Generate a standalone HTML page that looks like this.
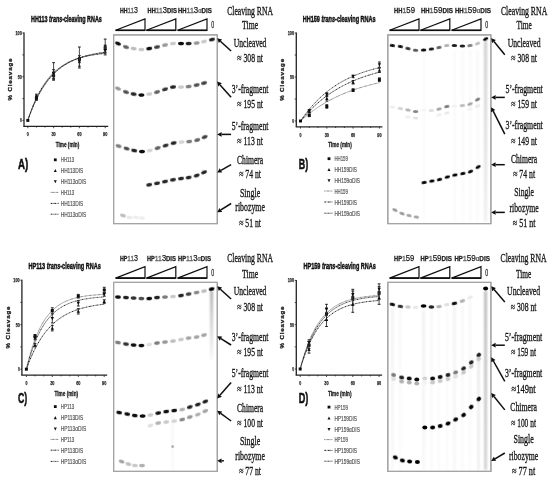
<!DOCTYPE html>
<html><head><meta charset="utf-8"><style>
html,body{margin:0;padding:0;background:#fff;width:550px;height:480px;overflow:hidden;font-family:"Liberation Sans",sans-serif;}
svg{display:block;}
</style></head><body>
<svg width="550" height="480" viewBox="0 0 550 480"><defs><filter id="bl" x="-50%" y="-50%" width="200%" height="200%"><feGaussianBlur stdDeviation="0.55"/></filter><filter id="bl2" x="-100%" y="-5%" width="300%" height="110%"><feGaussianBlur stdDeviation="0.8"/></filter><filter id="soft" x="0" y="0" width="100%" height="100%" filterUnits="userSpaceOnUse"><feGaussianBlur stdDeviation="0.42"/></filter></defs>
<rect width="550" height="480" fill="#fff"/>
<g filter="url(#soft)">
<line x1="24.0" y1="32.5" x2="24.0" y2="126.4" stroke="#222" stroke-width="1.3"/>
<line x1="23.4" y1="126.4" x2="108.2" y2="126.4" stroke="#222" stroke-width="1.3"/>
<line x1="22.4" y1="120.4" x2="24.0" y2="120.4" stroke="#222" stroke-width="0.8"/>
<line x1="22.4" y1="98.6" x2="24.0" y2="98.6" stroke="#222" stroke-width="0.8"/>
<line x1="22.4" y1="76.7" x2="24.0" y2="76.7" stroke="#222" stroke-width="0.8"/>
<line x1="22.4" y1="54.9" x2="24.0" y2="54.9" stroke="#222" stroke-width="0.8"/>
<line x1="22.4" y1="33.0" x2="24.0" y2="33.0" stroke="#222" stroke-width="0.8"/>
<line x1="27.8" y1="126.4" x2="27.8" y2="128.2" stroke="#222" stroke-width="0.8"/>
<line x1="36.4" y1="126.4" x2="36.4" y2="127.6" stroke="#222" stroke-width="0.8"/>
<line x1="45.0" y1="126.4" x2="45.0" y2="127.6" stroke="#222" stroke-width="0.8"/>
<line x1="53.6" y1="126.4" x2="53.6" y2="128.2" stroke="#222" stroke-width="0.8"/>
<line x1="62.2" y1="126.4" x2="62.2" y2="127.6" stroke="#222" stroke-width="0.8"/>
<line x1="70.8" y1="126.4" x2="70.8" y2="127.6" stroke="#222" stroke-width="0.8"/>
<line x1="79.4" y1="126.4" x2="79.4" y2="128.2" stroke="#222" stroke-width="0.8"/>
<line x1="88.0" y1="126.4" x2="88.0" y2="127.6" stroke="#222" stroke-width="0.8"/>
<line x1="96.6" y1="126.4" x2="96.6" y2="127.6" stroke="#222" stroke-width="0.8"/>
<line x1="105.2" y1="126.4" x2="105.2" y2="128.2" stroke="#222" stroke-width="0.8"/>
<text x="21.8" y="122.3" font-size="5.6" font-family='"Liberation Sans", sans-serif' font-weight="bold" font-style="normal" fill="#222" text-anchor="end" textLength="1.8" lengthAdjust="spacingAndGlyphs" stroke="#222" stroke-width="0.25">0</text>
<text x="21.8" y="78.6" font-size="5.6" font-family='"Liberation Sans", sans-serif' font-weight="bold" font-style="normal" fill="#222" text-anchor="end" textLength="4.0" lengthAdjust="spacingAndGlyphs" stroke="#222" stroke-width="0.25">50</text>
<text x="21.8" y="34.9" font-size="5.6" font-family='"Liberation Sans", sans-serif' font-weight="bold" font-style="normal" fill="#222" text-anchor="end" textLength="6.4" lengthAdjust="spacingAndGlyphs" stroke="#222" stroke-width="0.25">100</text>
<text x="27.8" y="136.2" font-size="6.2" font-family='"Liberation Sans", sans-serif' font-weight="bold" font-style="normal" fill="#222" text-anchor="middle" textLength="2.0" lengthAdjust="spacingAndGlyphs" stroke="#222" stroke-width="0.25">0</text>
<text x="53.6" y="136.2" font-size="6.2" font-family='"Liberation Sans", sans-serif' font-weight="bold" font-style="normal" fill="#222" text-anchor="middle" textLength="4.3" lengthAdjust="spacingAndGlyphs" stroke="#222" stroke-width="0.25">30</text>
<text x="79.4" y="136.2" font-size="6.2" font-family='"Liberation Sans", sans-serif' font-weight="bold" font-style="normal" fill="#222" text-anchor="middle" textLength="4.3" lengthAdjust="spacingAndGlyphs" stroke="#222" stroke-width="0.25">60</text>
<text x="105.2" y="136.2" font-size="6.2" font-family='"Liberation Sans", sans-serif' font-weight="bold" font-style="normal" fill="#222" text-anchor="middle" textLength="4.3" lengthAdjust="spacingAndGlyphs" stroke="#222" stroke-width="0.25">90</text>
<text x="67.5" y="146.7" font-size="6.4" font-family='"Liberation Sans", sans-serif' font-weight="bold" font-style="normal" fill="#222" text-anchor="middle" textLength="23.5" lengthAdjust="spacingAndGlyphs" stroke="#222" stroke-width="0.3">Time (min)</text>
<text x="0" y="0" font-size="6.2" font-family='"Liberation Sans", sans-serif' font-weight="bold" fill="#222" stroke="#222" stroke-width="0.3" text-anchor="middle" textLength="42" lengthAdjust="spacing" transform="translate(11.9 79.5) rotate(-90)">% Cleavage</text>
<text x="31.0" y="21.7" font-size="8.6" font-family='"Liberation Sans", sans-serif' font-weight="bold" fill="#111" stroke="#111" stroke-width="0.45" textLength="70.8" lengthAdjust="spacingAndGlyphs">HH113 <tspan font-style="italic">trans</tspan>-cleaving RNAs</text>
<polyline points="27.80,120.40 29.09,116.63 30.38,113.05 31.67,109.68 32.96,106.48 34.25,103.46 35.54,100.60 36.83,97.89 38.12,95.33 39.41,92.91 40.70,90.62 41.99,88.45 43.28,86.40 44.57,84.46 45.86,82.63 47.15,80.89 48.44,79.25 49.73,77.70 51.02,76.23 52.31,74.84 53.60,73.52 54.89,72.28 56.18,71.10 57.47,69.99 58.76,68.94 60.05,67.94 61.34,67.00 62.63,66.10 63.92,65.26 65.21,64.46 66.50,63.71 67.79,62.99 69.08,62.32 70.37,61.68 71.66,61.07 72.95,60.50 74.24,59.96 75.53,59.45 76.82,58.97 78.11,58.51 79.40,58.07 80.69,57.66 81.98,57.28 83.27,56.91 84.56,56.56 85.85,56.23 87.14,55.92 88.43,55.63 89.72,55.35 91.01,55.09 92.30,54.84 93.59,54.60 94.88,54.38 96.17,54.17 97.46,53.97 98.75,53.78 100.04,53.60 101.33,53.44 102.62,53.28 103.91,53.13 105.20,52.98" fill="none" stroke="#555" stroke-width="1.0" stroke-dasharray="0.7,0.6"/>
<polyline points="27.80,120.40 29.09,116.76 30.38,113.30 31.67,110.02 32.96,106.91 34.25,103.95 35.54,101.15 36.83,98.49 38.12,95.97 39.41,93.58 40.70,91.31 41.99,89.15 43.28,87.11 44.57,85.17 45.86,83.32 47.15,81.58 48.44,79.92 49.73,78.35 51.02,76.86 52.31,75.44 53.60,74.10 54.89,72.82 56.18,71.61 57.47,70.46 58.76,69.37 60.05,68.34 61.34,67.36 62.63,66.43 63.92,65.55 65.21,64.71 66.50,63.91 67.79,63.16 69.08,62.44 70.37,61.77 71.66,61.12 72.95,60.51 74.24,59.93 75.53,59.38 76.82,58.86 78.11,58.36 79.40,57.89 80.69,57.45 81.98,57.02 83.27,56.62 84.56,56.24 85.85,55.88 87.14,55.53 88.43,55.21 89.72,54.90 91.01,54.61 92.30,54.33 93.59,54.07 94.88,53.81 96.17,53.58 97.46,53.35 98.75,53.14 100.04,52.93 101.33,52.74 102.62,52.56 103.91,52.39 105.20,52.22" fill="none" stroke="#222" stroke-width="1.0" stroke-dasharray="1.8,0.6,0.6,0.6"/>
<polyline points="27.80,120.40 29.09,116.48 30.38,112.78 31.67,109.29 32.96,105.99 34.25,102.89 35.54,99.96 36.83,97.20 38.12,94.59 39.41,92.14 40.70,89.82 41.99,87.63 43.28,85.57 44.57,83.63 45.86,81.79 47.15,80.06 48.44,78.43 49.73,76.89 51.02,75.44 52.31,74.07 53.60,72.78 54.89,71.57 56.18,70.42 57.47,69.33 58.76,68.31 60.05,67.35 61.34,66.44 62.63,65.58 63.92,64.77 65.21,64.01 66.50,63.29 67.79,62.61 69.08,61.97 70.37,61.37 71.66,60.80 72.95,60.26 74.24,59.76 75.53,59.28 76.82,58.83 78.11,58.41 79.40,58.01 80.69,57.63 81.98,57.27 83.27,56.93 84.56,56.62 85.85,56.32 87.14,56.04 88.43,55.77 89.72,55.52 91.01,55.28 92.30,55.06 93.59,54.85 94.88,54.65 96.17,54.46 97.46,54.29 98.75,54.12 100.04,53.96 101.33,53.81 102.62,53.67 103.91,53.54 105.20,53.42" fill="none" stroke="#222" stroke-width="1.0" stroke-dasharray="1.3,0.5,0.5,0.5,0.5,0.5"/>
<rect x="26.3" y="118.9" width="3.0" height="3.0" fill="#111"/>
<line x1="36.4" y1="96.8" x2="36.4" y2="100.3" stroke="#333" stroke-width="0.9"/>
<line x1="35.0" y1="96.8" x2="37.8" y2="96.8" stroke="#222" stroke-width="1.0"/>
<line x1="35.0" y1="100.3" x2="37.8" y2="100.3" stroke="#222" stroke-width="1.0"/>
<rect x="34.9" y="97.1" width="3.0" height="3.0" fill="#111"/>
<line x1="53.6" y1="72.3" x2="53.6" y2="79.3" stroke="#333" stroke-width="0.9"/>
<line x1="52.2" y1="72.3" x2="55.0" y2="72.3" stroke="#222" stroke-width="1.0"/>
<line x1="52.2" y1="79.3" x2="55.0" y2="79.3" stroke="#222" stroke-width="1.0"/>
<rect x="52.1" y="74.3" width="3.0" height="3.0" fill="#111"/>
<line x1="79.4" y1="55.7" x2="79.4" y2="62.7" stroke="#333" stroke-width="0.9"/>
<line x1="78.0" y1="55.7" x2="80.8" y2="55.7" stroke="#222" stroke-width="1.0"/>
<line x1="78.0" y1="62.7" x2="80.8" y2="62.7" stroke="#222" stroke-width="1.0"/>
<rect x="77.9" y="57.7" width="3.0" height="3.0" fill="#111"/>
<line x1="105.2" y1="45.2" x2="105.2" y2="52.2" stroke="#333" stroke-width="0.9"/>
<line x1="103.8" y1="45.2" x2="106.6" y2="45.2" stroke="#222" stroke-width="1.0"/>
<line x1="103.8" y1="52.2" x2="106.6" y2="52.2" stroke="#222" stroke-width="1.0"/>
<rect x="103.7" y="47.2" width="3.0" height="3.0" fill="#111"/>
<line x1="36.4" y1="94.2" x2="36.4" y2="97.7" stroke="#333" stroke-width="0.9"/>
<line x1="35.0" y1="94.2" x2="37.8" y2="94.2" stroke="#222" stroke-width="1.0"/>
<line x1="35.0" y1="97.7" x2="37.8" y2="97.7" stroke="#222" stroke-width="1.0"/>
<polygon points="36.4,94.1 38.0,97.4 34.8,97.4" fill="#111"/>
<line x1="53.6" y1="62.7" x2="53.6" y2="80.2" stroke="#333" stroke-width="0.9"/>
<line x1="52.2" y1="62.7" x2="55.0" y2="62.7" stroke="#222" stroke-width="1.0"/>
<line x1="52.2" y1="80.2" x2="55.0" y2="80.2" stroke="#222" stroke-width="1.0"/>
<polygon points="53.6,69.7 55.2,73.0 52.0,73.0" fill="#111"/>
<line x1="79.4" y1="47.0" x2="79.4" y2="68.0" stroke="#333" stroke-width="0.9"/>
<line x1="78.0" y1="47.0" x2="80.8" y2="47.0" stroke="#222" stroke-width="1.0"/>
<line x1="78.0" y1="68.0" x2="80.8" y2="68.0" stroke="#222" stroke-width="1.0"/>
<polygon points="79.4,55.7 81.1,59.0 77.8,59.0" fill="#111"/>
<line x1="105.2" y1="39.1" x2="105.2" y2="53.1" stroke="#333" stroke-width="0.9"/>
<line x1="103.8" y1="39.1" x2="106.6" y2="39.1" stroke="#222" stroke-width="1.0"/>
<line x1="103.8" y1="53.1" x2="106.6" y2="53.1" stroke="#222" stroke-width="1.0"/>
<polygon points="105.2,44.3 106.9,47.6 103.5,47.6" fill="#111"/>
<line x1="36.4" y1="95.9" x2="36.4" y2="99.4" stroke="#333" stroke-width="0.9"/>
<line x1="35.0" y1="95.9" x2="37.8" y2="95.9" stroke="#222" stroke-width="1.0"/>
<line x1="35.0" y1="99.4" x2="37.8" y2="99.4" stroke="#222" stroke-width="1.0"/>
<polygon points="36.4,99.5 38.0,96.2 34.8,96.2" fill="#111"/>
<line x1="53.6" y1="69.7" x2="53.6" y2="78.4" stroke="#333" stroke-width="0.9"/>
<line x1="52.2" y1="69.7" x2="55.0" y2="69.7" stroke="#222" stroke-width="1.0"/>
<line x1="52.2" y1="78.4" x2="55.0" y2="78.4" stroke="#222" stroke-width="1.0"/>
<polygon points="53.6,75.9 55.2,72.6 52.0,72.6" fill="#111"/>
<line x1="79.4" y1="57.5" x2="79.4" y2="66.2" stroke="#333" stroke-width="0.9"/>
<line x1="78.0" y1="57.5" x2="80.8" y2="57.5" stroke="#222" stroke-width="1.0"/>
<line x1="78.0" y1="66.2" x2="80.8" y2="66.2" stroke="#222" stroke-width="1.0"/>
<polygon points="79.4,63.6 81.1,60.3 77.8,60.3" fill="#111"/>
<line x1="105.2" y1="46.1" x2="105.2" y2="54.9" stroke="#333" stroke-width="0.9"/>
<line x1="103.8" y1="46.1" x2="106.6" y2="46.1" stroke="#222" stroke-width="1.0"/>
<line x1="103.8" y1="54.9" x2="106.6" y2="54.9" stroke="#222" stroke-width="1.0"/>
<polygon points="105.2,52.3 106.9,49.0 103.5,49.0" fill="#111"/>
<text x="18.0" y="168.9" font-size="15.2" font-family='"Liberation Sans", sans-serif' font-weight="bold" font-style="normal" fill="#111" text-anchor="start" textLength="10.2" lengthAdjust="spacingAndGlyphs" stroke="#111" stroke-width="0.6">A)</text>
<rect x="53.9" y="158.4" width="2.8" height="2.8" fill="#111"/>
<text x="60.7" y="162.2" font-size="7.4" font-family='"Liberation Sans", sans-serif' font-weight="normal" font-style="normal" fill="#555" text-anchor="start" textLength="13.5" lengthAdjust="spacingAndGlyphs" stroke="#555" stroke-width="0.2">HH113</text>
<polygon points="55.3,168.9 56.8,172.0 53.8,172.0" fill="#111"/>
<text x="60.7" y="173.0" font-size="7.4" font-family='"Liberation Sans", sans-serif' font-weight="normal" font-style="normal" fill="#555" text-anchor="start" textLength="22.5" lengthAdjust="spacingAndGlyphs" stroke="#555" stroke-width="0.2">HH113DIS</text>
<polygon points="55.3,183.3 56.8,180.2 53.8,180.2" fill="#111"/>
<text x="60.7" y="184.0" font-size="7.4" font-family='"Liberation Sans", sans-serif' font-weight="normal" font-style="normal" fill="#555" text-anchor="start" textLength="25.5" lengthAdjust="spacingAndGlyphs" stroke="#555" stroke-width="0.2">HH113αDIS</text>
<line x1="50.7" y1="192.4" x2="58.7" y2="192.4" stroke="#555" stroke-width="1.0" stroke-dasharray="0.7,0.6"/>
<text x="60.7" y="195.0" font-size="7.4" font-family='"Liberation Sans", sans-serif' font-weight="normal" font-style="normal" fill="#555" text-anchor="start" textLength="13.5" lengthAdjust="spacingAndGlyphs" stroke="#555" stroke-width="0.2">HH113</text>
<line x1="50.7" y1="203.4" x2="58.7" y2="203.4" stroke="#222" stroke-width="1.0" stroke-dasharray="1.8,0.6,0.6,0.6"/>
<text x="60.7" y="206.0" font-size="7.4" font-family='"Liberation Sans", sans-serif' font-weight="normal" font-style="normal" fill="#555" text-anchor="start" textLength="22.5" lengthAdjust="spacingAndGlyphs" stroke="#555" stroke-width="0.2">HH113DIS</text>
<line x1="50.7" y1="214.2" x2="58.7" y2="214.2" stroke="#222" stroke-width="1.0" stroke-dasharray="1.3,0.5,0.5,0.5,0.5,0.5"/>
<text x="60.7" y="216.8" font-size="7.4" font-family='"Liberation Sans", sans-serif' font-weight="normal" font-style="normal" fill="#555" text-anchor="start" textLength="25.5" lengthAdjust="spacingAndGlyphs" stroke="#555" stroke-width="0.2">HH113αDIS</text>
<line x1="296.3" y1="32.5" x2="296.3" y2="126.8" stroke="#222" stroke-width="1.3"/>
<line x1="295.7" y1="126.8" x2="382.4" y2="126.8" stroke="#222" stroke-width="1.3"/>
<line x1="294.7" y1="121.0" x2="296.3" y2="121.0" stroke="#222" stroke-width="0.8"/>
<line x1="294.7" y1="99.0" x2="296.3" y2="99.0" stroke="#222" stroke-width="0.8"/>
<line x1="294.7" y1="77.0" x2="296.3" y2="77.0" stroke="#222" stroke-width="0.8"/>
<line x1="294.7" y1="55.0" x2="296.3" y2="55.0" stroke="#222" stroke-width="0.8"/>
<line x1="294.7" y1="33.0" x2="296.3" y2="33.0" stroke="#222" stroke-width="0.8"/>
<line x1="300.5" y1="126.8" x2="300.5" y2="128.6" stroke="#222" stroke-width="0.8"/>
<line x1="309.3" y1="126.8" x2="309.3" y2="128.0" stroke="#222" stroke-width="0.8"/>
<line x1="318.0" y1="126.8" x2="318.0" y2="128.0" stroke="#222" stroke-width="0.8"/>
<line x1="326.8" y1="126.8" x2="326.8" y2="128.6" stroke="#222" stroke-width="0.8"/>
<line x1="335.6" y1="126.8" x2="335.6" y2="128.0" stroke="#222" stroke-width="0.8"/>
<line x1="344.4" y1="126.8" x2="344.4" y2="128.0" stroke="#222" stroke-width="0.8"/>
<line x1="353.1" y1="126.8" x2="353.1" y2="128.6" stroke="#222" stroke-width="0.8"/>
<line x1="361.9" y1="126.8" x2="361.9" y2="128.0" stroke="#222" stroke-width="0.8"/>
<line x1="370.7" y1="126.8" x2="370.7" y2="128.0" stroke="#222" stroke-width="0.8"/>
<line x1="379.4" y1="126.8" x2="379.4" y2="128.6" stroke="#222" stroke-width="0.8"/>
<text x="294.1" y="122.9" font-size="5.6" font-family='"Liberation Sans", sans-serif' font-weight="bold" font-style="normal" fill="#222" text-anchor="end" textLength="1.8" lengthAdjust="spacingAndGlyphs" stroke="#222" stroke-width="0.25">0</text>
<text x="294.1" y="78.9" font-size="5.6" font-family='"Liberation Sans", sans-serif' font-weight="bold" font-style="normal" fill="#222" text-anchor="end" textLength="4.0" lengthAdjust="spacingAndGlyphs" stroke="#222" stroke-width="0.25">50</text>
<text x="294.1" y="34.9" font-size="5.6" font-family='"Liberation Sans", sans-serif' font-weight="bold" font-style="normal" fill="#222" text-anchor="end" textLength="6.4" lengthAdjust="spacingAndGlyphs" stroke="#222" stroke-width="0.25">100</text>
<text x="300.5" y="136.6" font-size="6.2" font-family='"Liberation Sans", sans-serif' font-weight="bold" font-style="normal" fill="#222" text-anchor="middle" textLength="2.0" lengthAdjust="spacingAndGlyphs" stroke="#222" stroke-width="0.25">0</text>
<text x="326.8" y="136.6" font-size="6.2" font-family='"Liberation Sans", sans-serif' font-weight="bold" font-style="normal" fill="#222" text-anchor="middle" textLength="4.3" lengthAdjust="spacingAndGlyphs" stroke="#222" stroke-width="0.25">30</text>
<text x="353.1" y="136.6" font-size="6.2" font-family='"Liberation Sans", sans-serif' font-weight="bold" font-style="normal" fill="#222" text-anchor="middle" textLength="4.3" lengthAdjust="spacingAndGlyphs" stroke="#222" stroke-width="0.25">60</text>
<text x="379.4" y="136.6" font-size="6.2" font-family='"Liberation Sans", sans-serif' font-weight="bold" font-style="normal" fill="#222" text-anchor="middle" textLength="4.3" lengthAdjust="spacingAndGlyphs" stroke="#222" stroke-width="0.25">90</text>
<text x="340.0" y="147.1" font-size="6.4" font-family='"Liberation Sans", sans-serif' font-weight="bold" font-style="normal" fill="#222" text-anchor="middle" textLength="23.5" lengthAdjust="spacingAndGlyphs" stroke="#222" stroke-width="0.3">Time (min)</text>
<text x="0" y="0" font-size="6.2" font-family='"Liberation Sans", sans-serif' font-weight="bold" fill="#222" stroke="#222" stroke-width="0.3" text-anchor="middle" textLength="42" lengthAdjust="spacing" transform="translate(284.2 79.8) rotate(-90)">% Cleavage</text>
<text x="302.7" y="21.5" font-size="8.6" font-family='"Liberation Sans", sans-serif' font-weight="bold" fill="#111" stroke="#111" stroke-width="0.45" textLength="73.0" lengthAdjust="spacingAndGlyphs">HH159 <tspan font-style="italic">trans</tspan>-cleaving RNAs</text>
<polyline points="300.50,121.00 301.82,119.81 303.13,118.65 304.45,117.52 305.76,116.41 307.08,115.33 308.39,114.27 309.71,113.24 311.02,112.24 312.34,111.26 313.65,110.30 314.97,109.36 316.29,108.45 317.60,107.56 318.92,106.69 320.23,105.84 321.55,105.01 322.86,104.20 324.18,103.40 325.49,102.63 326.81,101.88 328.13,101.14 329.44,100.42 330.76,99.72 332.07,99.04 333.39,98.37 334.70,97.72 336.02,97.08 337.33,96.46 338.65,95.85 339.97,95.26 341.28,94.68 342.60,94.11 343.91,93.56 345.23,93.02 346.54,92.49 347.86,91.98 349.17,91.48 350.49,90.99 351.80,90.51 353.12,90.05 354.44,89.59 355.75,89.15 357.07,88.71 358.38,88.29 359.70,87.87 361.01,87.47 362.33,87.08 363.64,86.69 364.96,86.31 366.27,85.95 367.59,85.59 368.91,85.24 370.22,84.90 371.54,84.56 372.85,84.24 374.17,83.92 375.48,83.61 376.80,83.31 378.11,83.01 379.43,82.72" fill="none" stroke="#555" stroke-width="1.0" stroke-dasharray="0.7,0.6"/>
<polyline points="300.50,121.00 301.82,119.40 303.13,117.85 304.45,116.34 305.76,114.86 307.08,113.42 308.39,112.02 309.71,110.66 311.02,109.33 312.34,108.04 313.65,106.78 314.97,105.55 316.29,104.35 317.60,103.19 318.92,102.06 320.23,100.95 321.55,99.87 322.86,98.83 324.18,97.80 325.49,96.81 326.81,95.84 328.13,94.90 329.44,93.98 330.76,93.08 332.07,92.21 333.39,91.36 334.70,90.53 336.02,89.72 337.33,88.94 338.65,88.17 339.97,87.43 341.28,86.70 342.60,85.99 343.91,85.30 345.23,84.63 346.54,83.98 347.86,83.34 349.17,82.72 350.49,82.12 351.80,81.53 353.12,80.96 354.44,80.40 355.75,79.85 357.07,79.32 358.38,78.81 359.70,78.30 361.01,77.81 362.33,77.34 363.64,76.87 364.96,76.42 366.27,75.98 367.59,75.55 368.91,75.13 370.22,74.72 371.54,74.33 372.85,73.94 374.17,73.56 375.48,73.20 376.80,72.84 378.11,72.49 379.43,72.15" fill="none" stroke="#222" stroke-width="1.0" stroke-dasharray="1.8,0.6,0.6,0.6"/>
<polyline points="300.50,121.00 301.82,119.08 303.13,117.22 304.45,115.42 305.76,113.67 307.08,111.97 308.39,110.33 309.71,108.73 311.02,107.18 312.34,105.68 313.65,104.23 314.97,102.82 316.29,101.45 317.60,100.12 318.92,98.84 320.23,97.59 321.55,96.38 322.86,95.21 324.18,94.07 325.49,92.96 326.81,91.90 328.13,90.86 329.44,89.85 330.76,88.88 332.07,87.93 333.39,87.01 334.70,86.12 336.02,85.26 337.33,84.42 338.65,83.61 339.97,82.83 341.28,82.06 342.60,81.32 343.91,80.61 345.23,79.91 346.54,79.24 347.86,78.58 349.17,77.95 350.49,77.33 351.80,76.74 353.12,76.16 354.44,75.60 355.75,75.06 357.07,74.53 358.38,74.02 359.70,73.52 361.01,73.04 362.33,72.57 363.64,72.12 364.96,71.68 366.27,71.26 367.59,70.84 368.91,70.44 370.22,70.06 371.54,69.68 372.85,69.32 374.17,68.96 375.48,68.62 376.80,68.29 378.11,67.97 379.43,67.65" fill="none" stroke="#222" stroke-width="1.0" stroke-dasharray="1.3,0.5,0.5,0.5,0.5,0.5"/>
<rect x="299.0" y="119.5" width="3.0" height="3.0" fill="#111"/>
<line x1="309.3" y1="114.0" x2="309.3" y2="116.6" stroke="#333" stroke-width="0.9"/>
<line x1="307.9" y1="114.0" x2="310.7" y2="114.0" stroke="#222" stroke-width="1.0"/>
<line x1="307.9" y1="116.6" x2="310.7" y2="116.6" stroke="#222" stroke-width="1.0"/>
<rect x="307.8" y="113.8" width="3.0" height="3.0" fill="#111"/>
<line x1="326.8" y1="104.7" x2="326.8" y2="108.2" stroke="#333" stroke-width="0.9"/>
<line x1="325.4" y1="104.7" x2="328.2" y2="104.7" stroke="#222" stroke-width="1.0"/>
<line x1="325.4" y1="108.2" x2="328.2" y2="108.2" stroke="#222" stroke-width="1.0"/>
<rect x="325.3" y="105.0" width="3.0" height="3.0" fill="#111"/>
<line x1="353.1" y1="88.9" x2="353.1" y2="91.5" stroke="#333" stroke-width="0.9"/>
<line x1="351.7" y1="88.9" x2="354.5" y2="88.9" stroke="#222" stroke-width="1.0"/>
<line x1="351.7" y1="91.5" x2="354.5" y2="91.5" stroke="#222" stroke-width="1.0"/>
<rect x="351.6" y="88.7" width="3.0" height="3.0" fill="#111"/>
<line x1="379.4" y1="77.9" x2="379.4" y2="81.4" stroke="#333" stroke-width="0.9"/>
<line x1="378.0" y1="77.9" x2="380.8" y2="77.9" stroke="#222" stroke-width="1.0"/>
<line x1="378.0" y1="81.4" x2="380.8" y2="81.4" stroke="#222" stroke-width="1.0"/>
<rect x="377.9" y="78.1" width="3.0" height="3.0" fill="#111"/>
<line x1="309.3" y1="109.6" x2="309.3" y2="112.3" stroke="#333" stroke-width="0.9"/>
<line x1="307.9" y1="109.6" x2="310.7" y2="109.6" stroke="#222" stroke-width="1.0"/>
<line x1="307.9" y1="112.3" x2="310.7" y2="112.3" stroke="#222" stroke-width="1.0"/>
<polygon points="309.3,109.2 310.9,112.5 307.6,112.5" fill="#111"/>
<line x1="326.8" y1="95.8" x2="326.8" y2="101.1" stroke="#333" stroke-width="0.9"/>
<line x1="325.4" y1="95.8" x2="328.2" y2="95.8" stroke="#222" stroke-width="1.0"/>
<line x1="325.4" y1="101.1" x2="328.2" y2="101.1" stroke="#222" stroke-width="1.0"/>
<polygon points="326.8,96.7 328.5,100.0 325.2,100.0" fill="#111"/>
<line x1="353.1" y1="80.5" x2="353.1" y2="84.0" stroke="#333" stroke-width="0.9"/>
<line x1="351.7" y1="80.5" x2="354.5" y2="80.5" stroke="#222" stroke-width="1.0"/>
<line x1="351.7" y1="84.0" x2="354.5" y2="84.0" stroke="#222" stroke-width="1.0"/>
<polygon points="353.1,80.5 354.8,83.8 351.5,83.8" fill="#111"/>
<line x1="379.4" y1="68.1" x2="379.4" y2="72.5" stroke="#333" stroke-width="0.9"/>
<line x1="378.0" y1="68.1" x2="380.8" y2="68.1" stroke="#222" stroke-width="1.0"/>
<line x1="378.0" y1="72.5" x2="380.8" y2="72.5" stroke="#222" stroke-width="1.0"/>
<polygon points="379.4,68.5 381.1,71.8 377.8,71.8" fill="#111"/>
<line x1="309.3" y1="110.0" x2="309.3" y2="112.6" stroke="#333" stroke-width="0.9"/>
<line x1="307.9" y1="110.0" x2="310.7" y2="110.0" stroke="#222" stroke-width="1.0"/>
<line x1="307.9" y1="112.6" x2="310.7" y2="112.6" stroke="#222" stroke-width="1.0"/>
<polygon points="309.3,113.1 310.9,109.8 307.6,109.8" fill="#111"/>
<line x1="326.8" y1="92.8" x2="326.8" y2="96.4" stroke="#333" stroke-width="0.9"/>
<line x1="325.4" y1="92.8" x2="328.2" y2="92.8" stroke="#222" stroke-width="1.0"/>
<line x1="325.4" y1="96.4" x2="328.2" y2="96.4" stroke="#222" stroke-width="1.0"/>
<polygon points="326.8,96.4 328.5,93.1 325.2,93.1" fill="#111"/>
<line x1="353.1" y1="75.1" x2="353.1" y2="77.7" stroke="#333" stroke-width="0.9"/>
<line x1="351.7" y1="75.1" x2="354.5" y2="75.1" stroke="#222" stroke-width="1.0"/>
<line x1="351.7" y1="77.7" x2="354.5" y2="77.7" stroke="#222" stroke-width="1.0"/>
<polygon points="353.1,78.2 354.8,74.9 351.5,74.9" fill="#111"/>
<line x1="379.4" y1="62.0" x2="379.4" y2="67.3" stroke="#333" stroke-width="0.9"/>
<line x1="378.0" y1="62.0" x2="380.8" y2="62.0" stroke="#222" stroke-width="1.0"/>
<line x1="378.0" y1="67.3" x2="380.8" y2="67.3" stroke="#222" stroke-width="1.0"/>
<polygon points="379.4,66.5 381.1,63.2 377.8,63.2" fill="#111"/>
<text x="298.8" y="168.9" font-size="15.2" font-family='"Liberation Sans", sans-serif' font-weight="bold" font-style="normal" fill="#111" text-anchor="start" textLength="9.4" lengthAdjust="spacingAndGlyphs" stroke="#111" stroke-width="0.6">B)</text>
<rect x="327.6" y="157.3" width="2.8" height="2.8" fill="#111"/>
<text x="334.4" y="161.1" font-size="7.4" font-family='"Liberation Sans", sans-serif' font-weight="normal" font-style="normal" fill="#555" text-anchor="start" textLength="13.5" lengthAdjust="spacingAndGlyphs" stroke="#555" stroke-width="0.2">HH159</text>
<polygon points="329.0,167.9 330.5,171.0 327.5,171.0" fill="#111"/>
<text x="334.4" y="172.0" font-size="7.4" font-family='"Liberation Sans", sans-serif' font-weight="normal" font-style="normal" fill="#555" text-anchor="start" textLength="22.5" lengthAdjust="spacingAndGlyphs" stroke="#555" stroke-width="0.2">HH159DIS</text>
<polygon points="329.0,182.3 330.5,179.2 327.5,179.2" fill="#111"/>
<text x="334.4" y="183.0" font-size="7.4" font-family='"Liberation Sans", sans-serif' font-weight="normal" font-style="normal" fill="#555" text-anchor="start" textLength="25.5" lengthAdjust="spacingAndGlyphs" stroke="#555" stroke-width="0.2">HH159αDIS</text>
<line x1="324.4" y1="191.0" x2="332.4" y2="191.0" stroke="#555" stroke-width="1.0" stroke-dasharray="0.7,0.6"/>
<text x="334.4" y="193.6" font-size="7.4" font-family='"Liberation Sans", sans-serif' font-weight="normal" font-style="normal" fill="#555" text-anchor="start" textLength="13.5" lengthAdjust="spacingAndGlyphs" stroke="#555" stroke-width="0.2">HH159</text>
<line x1="324.4" y1="202.0" x2="332.4" y2="202.0" stroke="#222" stroke-width="1.0" stroke-dasharray="1.8,0.6,0.6,0.6"/>
<text x="334.4" y="204.6" font-size="7.4" font-family='"Liberation Sans", sans-serif' font-weight="normal" font-style="normal" fill="#555" text-anchor="start" textLength="22.5" lengthAdjust="spacingAndGlyphs" stroke="#555" stroke-width="0.2">HH159DIS</text>
<line x1="324.4" y1="213.2" x2="332.4" y2="213.2" stroke="#222" stroke-width="1.0" stroke-dasharray="1.3,0.5,0.5,0.5,0.5,0.5"/>
<text x="334.4" y="215.8" font-size="7.4" font-family='"Liberation Sans", sans-serif' font-weight="normal" font-style="normal" fill="#555" text-anchor="start" textLength="25.5" lengthAdjust="spacingAndGlyphs" stroke="#555" stroke-width="0.2">HH159αDIS</text>
<line x1="21.9" y1="279.7" x2="21.9" y2="375.2" stroke="#222" stroke-width="1.3"/>
<line x1="21.3" y1="375.2" x2="107.2" y2="375.2" stroke="#222" stroke-width="1.3"/>
<line x1="20.3" y1="369.2" x2="21.9" y2="369.2" stroke="#222" stroke-width="0.8"/>
<line x1="20.3" y1="346.9" x2="21.9" y2="346.9" stroke="#222" stroke-width="0.8"/>
<line x1="20.3" y1="324.7" x2="21.9" y2="324.7" stroke="#222" stroke-width="0.8"/>
<line x1="20.3" y1="302.4" x2="21.9" y2="302.4" stroke="#222" stroke-width="0.8"/>
<line x1="20.3" y1="280.2" x2="21.9" y2="280.2" stroke="#222" stroke-width="0.8"/>
<line x1="26.4" y1="375.2" x2="26.4" y2="377.0" stroke="#222" stroke-width="0.8"/>
<line x1="35.0" y1="375.2" x2="35.0" y2="376.4" stroke="#222" stroke-width="0.8"/>
<line x1="43.7" y1="375.2" x2="43.7" y2="376.4" stroke="#222" stroke-width="0.8"/>
<line x1="52.3" y1="375.2" x2="52.3" y2="377.0" stroke="#222" stroke-width="0.8"/>
<line x1="61.0" y1="375.2" x2="61.0" y2="376.4" stroke="#222" stroke-width="0.8"/>
<line x1="69.7" y1="375.2" x2="69.7" y2="376.4" stroke="#222" stroke-width="0.8"/>
<line x1="78.3" y1="375.2" x2="78.3" y2="377.0" stroke="#222" stroke-width="0.8"/>
<line x1="86.9" y1="375.2" x2="86.9" y2="376.4" stroke="#222" stroke-width="0.8"/>
<line x1="95.6" y1="375.2" x2="95.6" y2="376.4" stroke="#222" stroke-width="0.8"/>
<line x1="104.2" y1="375.2" x2="104.2" y2="377.0" stroke="#222" stroke-width="0.8"/>
<text x="19.7" y="371.1" font-size="5.6" font-family='"Liberation Sans", sans-serif' font-weight="bold" font-style="normal" fill="#222" text-anchor="end" textLength="1.8" lengthAdjust="spacingAndGlyphs" stroke="#222" stroke-width="0.25">0</text>
<text x="19.7" y="326.6" font-size="5.6" font-family='"Liberation Sans", sans-serif' font-weight="bold" font-style="normal" fill="#222" text-anchor="end" textLength="4.0" lengthAdjust="spacingAndGlyphs" stroke="#222" stroke-width="0.25">50</text>
<text x="19.7" y="282.1" font-size="5.6" font-family='"Liberation Sans", sans-serif' font-weight="bold" font-style="normal" fill="#222" text-anchor="end" textLength="6.4" lengthAdjust="spacingAndGlyphs" stroke="#222" stroke-width="0.25">100</text>
<text x="26.4" y="385.0" font-size="6.2" font-family='"Liberation Sans", sans-serif' font-weight="bold" font-style="normal" fill="#222" text-anchor="middle" textLength="2.0" lengthAdjust="spacingAndGlyphs" stroke="#222" stroke-width="0.25">0</text>
<text x="52.3" y="385.0" font-size="6.2" font-family='"Liberation Sans", sans-serif' font-weight="bold" font-style="normal" fill="#222" text-anchor="middle" textLength="4.3" lengthAdjust="spacingAndGlyphs" stroke="#222" stroke-width="0.25">30</text>
<text x="78.3" y="385.0" font-size="6.2" font-family='"Liberation Sans", sans-serif' font-weight="bold" font-style="normal" fill="#222" text-anchor="middle" textLength="4.3" lengthAdjust="spacingAndGlyphs" stroke="#222" stroke-width="0.25">60</text>
<text x="104.2" y="385.0" font-size="6.2" font-family='"Liberation Sans", sans-serif' font-weight="bold" font-style="normal" fill="#222" text-anchor="middle" textLength="4.3" lengthAdjust="spacingAndGlyphs" stroke="#222" stroke-width="0.25">90</text>
<text x="66.3" y="395.5" font-size="6.4" font-family='"Liberation Sans", sans-serif' font-weight="bold" font-style="normal" fill="#222" text-anchor="middle" textLength="23.5" lengthAdjust="spacingAndGlyphs" stroke="#222" stroke-width="0.3">Time (min)</text>
<text x="0" y="0" font-size="6.2" font-family='"Liberation Sans", sans-serif' font-weight="bold" fill="#222" stroke="#222" stroke-width="0.3" text-anchor="middle" textLength="42" lengthAdjust="spacing" transform="translate(9.8 327.5) rotate(-90)">% Cleavage</text>
<text x="28.6" y="269.0" font-size="8.6" font-family='"Liberation Sans", sans-serif' font-weight="bold" fill="#111" stroke="#111" stroke-width="0.45" textLength="72.2" lengthAdjust="spacingAndGlyphs">HP113 <tspan font-style="italic">trans</tspan>-cleaving RNAs</text>
<polyline points="26.40,369.20 27.70,363.73 28.99,358.66 30.29,353.96 31.59,349.59 32.89,345.54 34.19,341.79 35.48,338.30 36.78,335.07 38.08,332.07 39.38,329.28 40.67,326.70 41.97,324.31 43.27,322.08 44.56,320.02 45.86,318.11 47.16,316.34 48.46,314.69 49.75,313.16 51.05,311.74 52.35,310.43 53.65,309.21 54.94,308.08 56.24,307.03 57.54,306.05 58.84,305.15 60.13,304.31 61.43,303.54 62.73,302.81 64.03,302.14 65.32,301.52 66.62,300.95 67.92,300.41 69.22,299.92 70.52,299.46 71.81,299.03 73.11,298.63 74.41,298.27 75.70,297.93 77.00,297.61 78.30,297.32 79.60,297.04 80.89,296.79 82.19,296.56 83.49,296.34 84.79,296.14 86.09,295.95 87.38,295.78 88.68,295.62 89.98,295.47 91.28,295.33 92.57,295.20 93.87,295.08 95.17,294.97 96.47,294.87 97.76,294.77 99.06,294.68 100.36,294.60 101.66,294.53 102.95,294.46 104.25,294.39" fill="none" stroke="#555" stroke-width="1.0" stroke-dasharray="0.7,0.6"/>
<polyline points="26.40,369.20 27.70,365.64 28.99,362.28 30.29,359.08 31.59,356.06 32.89,353.19 34.19,350.48 35.48,347.91 36.78,345.47 38.08,343.16 39.38,340.98 40.67,338.91 41.97,336.94 43.27,335.08 44.56,333.32 45.86,331.65 47.16,330.07 48.46,328.57 49.75,327.15 51.05,325.80 52.35,324.53 53.65,323.32 54.94,322.18 56.24,321.09 57.54,320.07 58.84,319.10 60.13,318.17 61.43,317.30 62.73,316.47 64.03,315.69 65.32,314.95 66.62,314.24 67.92,313.58 69.22,312.94 70.52,312.35 71.81,311.78 73.11,311.24 74.41,310.73 75.70,310.25 77.00,309.79 78.30,309.36 79.60,308.95 80.89,308.56 82.19,308.19 83.49,307.85 84.79,307.51 86.09,307.20 87.38,306.91 88.68,306.62 89.98,306.36 91.28,306.11 92.57,305.87 93.87,305.64 95.17,305.43 96.47,305.22 97.76,305.03 99.06,304.85 100.36,304.67 101.66,304.51 102.95,304.36 104.25,304.21" fill="none" stroke="#222" stroke-width="1.0" stroke-dasharray="1.8,0.6,0.6,0.6"/>
<polyline points="26.40,369.20 27.70,364.30 28.99,359.74 30.29,355.47 31.59,351.49 32.89,347.78 34.19,344.31 35.48,341.07 36.78,338.05 38.08,335.23 39.38,332.60 40.67,330.15 41.97,327.86 43.27,325.72 44.56,323.72 45.86,321.86 47.16,320.12 48.46,318.50 49.75,316.98 51.05,315.57 52.35,314.25 53.65,313.02 54.94,311.87 56.24,310.79 57.54,309.79 58.84,308.86 60.13,307.99 61.43,307.17 62.73,306.41 64.03,305.70 65.32,305.04 66.62,304.42 67.92,303.85 69.22,303.31 70.52,302.81 71.81,302.34 73.11,301.90 74.41,301.49 75.70,301.11 77.00,300.75 78.30,300.42 79.60,300.11 80.89,299.82 82.19,299.55 83.49,299.30 84.79,299.07 86.09,298.85 87.38,298.64 88.68,298.45 89.98,298.27 91.28,298.11 92.57,297.95 93.87,297.81 95.17,297.67 96.47,297.54 97.76,297.43 99.06,297.32 100.36,297.21 101.66,297.12 102.95,297.03 104.25,296.94" fill="none" stroke="#222" stroke-width="1.0" stroke-dasharray="1.3,0.5,0.5,0.5,0.5,0.5"/>
<rect x="24.9" y="367.7" width="3.0" height="3.0" fill="#111"/>
<line x1="35.0" y1="334.5" x2="35.0" y2="338.1" stroke="#333" stroke-width="0.9"/>
<line x1="33.6" y1="334.5" x2="36.4" y2="334.5" stroke="#222" stroke-width="1.0"/>
<line x1="33.6" y1="338.1" x2="36.4" y2="338.1" stroke="#222" stroke-width="1.0"/>
<rect x="33.5" y="334.8" width="3.0" height="3.0" fill="#111"/>
<line x1="52.3" y1="307.8" x2="52.3" y2="313.1" stroke="#333" stroke-width="0.9"/>
<line x1="50.9" y1="307.8" x2="53.7" y2="307.8" stroke="#222" stroke-width="1.0"/>
<line x1="50.9" y1="313.1" x2="53.7" y2="313.1" stroke="#222" stroke-width="1.0"/>
<rect x="50.8" y="309.0" width="3.0" height="3.0" fill="#111"/>
<line x1="78.3" y1="294.4" x2="78.3" y2="298.0" stroke="#333" stroke-width="0.9"/>
<line x1="76.9" y1="294.4" x2="79.7" y2="294.4" stroke="#222" stroke-width="1.0"/>
<line x1="76.9" y1="298.0" x2="79.7" y2="298.0" stroke="#222" stroke-width="1.0"/>
<rect x="76.8" y="294.7" width="3.0" height="3.0" fill="#111"/>
<line x1="104.2" y1="287.3" x2="104.2" y2="292.7" stroke="#333" stroke-width="0.9"/>
<line x1="102.8" y1="287.3" x2="105.7" y2="287.3" stroke="#222" stroke-width="1.0"/>
<line x1="102.8" y1="292.7" x2="105.7" y2="292.7" stroke="#222" stroke-width="1.0"/>
<rect x="102.8" y="288.5" width="3.0" height="3.0" fill="#111"/>
<line x1="35.0" y1="343.4" x2="35.0" y2="346.9" stroke="#333" stroke-width="0.9"/>
<line x1="33.6" y1="343.4" x2="36.4" y2="343.4" stroke="#222" stroke-width="1.0"/>
<line x1="33.6" y1="346.9" x2="36.4" y2="346.9" stroke="#222" stroke-width="1.0"/>
<polygon points="35.0,343.4 36.7,346.7 33.4,346.7" fill="#111"/>
<line x1="52.3" y1="325.6" x2="52.3" y2="330.9" stroke="#333" stroke-width="0.9"/>
<line x1="50.9" y1="325.6" x2="53.7" y2="325.6" stroke="#222" stroke-width="1.0"/>
<line x1="50.9" y1="330.9" x2="53.7" y2="330.9" stroke="#222" stroke-width="1.0"/>
<polygon points="52.3,326.5 54.0,329.8 50.7,329.8" fill="#111"/>
<line x1="78.3" y1="308.7" x2="78.3" y2="314.0" stroke="#333" stroke-width="0.9"/>
<line x1="76.9" y1="308.7" x2="79.7" y2="308.7" stroke="#222" stroke-width="1.0"/>
<line x1="76.9" y1="314.0" x2="79.7" y2="314.0" stroke="#222" stroke-width="1.0"/>
<polygon points="78.3,309.5 80.0,312.8 76.6,312.8" fill="#111"/>
<line x1="104.2" y1="299.8" x2="104.2" y2="303.3" stroke="#333" stroke-width="0.9"/>
<line x1="102.8" y1="299.8" x2="105.7" y2="299.8" stroke="#222" stroke-width="1.0"/>
<line x1="102.8" y1="303.3" x2="105.7" y2="303.3" stroke="#222" stroke-width="1.0"/>
<polygon points="104.2,299.8 105.9,303.1 102.6,303.1" fill="#111"/>
<line x1="35.0" y1="336.3" x2="35.0" y2="339.8" stroke="#333" stroke-width="0.9"/>
<line x1="33.6" y1="336.3" x2="36.4" y2="336.3" stroke="#222" stroke-width="1.0"/>
<line x1="33.6" y1="339.8" x2="36.4" y2="339.8" stroke="#222" stroke-width="1.0"/>
<polygon points="35.0,339.9 36.7,336.6 33.4,336.6" fill="#111"/>
<line x1="52.3" y1="314.0" x2="52.3" y2="322.9" stroke="#333" stroke-width="0.9"/>
<line x1="50.9" y1="314.0" x2="53.7" y2="314.0" stroke="#222" stroke-width="1.0"/>
<line x1="50.9" y1="322.9" x2="53.7" y2="322.9" stroke="#222" stroke-width="1.0"/>
<polygon points="52.3,320.3 54.0,317.0 50.7,317.0" fill="#111"/>
<line x1="78.3" y1="300.7" x2="78.3" y2="306.0" stroke="#333" stroke-width="0.9"/>
<line x1="76.9" y1="300.7" x2="79.7" y2="300.7" stroke="#222" stroke-width="1.0"/>
<line x1="76.9" y1="306.0" x2="79.7" y2="306.0" stroke="#222" stroke-width="1.0"/>
<polygon points="78.3,305.1 80.0,301.8 76.6,301.8" fill="#111"/>
<line x1="104.2" y1="292.7" x2="104.2" y2="296.2" stroke="#333" stroke-width="0.9"/>
<line x1="102.8" y1="292.7" x2="105.7" y2="292.7" stroke="#222" stroke-width="1.0"/>
<line x1="102.8" y1="296.2" x2="105.7" y2="296.2" stroke="#222" stroke-width="1.0"/>
<polygon points="104.2,296.2 105.9,292.9 102.6,292.9" fill="#111"/>
<text x="18.0" y="402.7" font-size="15.2" font-family='"Liberation Sans", sans-serif' font-weight="bold" font-style="normal" fill="#111" text-anchor="start" textLength="9.2" lengthAdjust="spacingAndGlyphs" stroke="#111" stroke-width="0.6">C)</text>
<rect x="53.9" y="405.2" width="2.8" height="2.8" fill="#111"/>
<text x="60.7" y="409.0" font-size="7.4" font-family='"Liberation Sans", sans-serif' font-weight="normal" font-style="normal" fill="#555" text-anchor="start" textLength="13.5" lengthAdjust="spacingAndGlyphs" stroke="#555" stroke-width="0.2">HP113</text>
<polygon points="55.3,416.1 56.8,419.2 53.8,419.2" fill="#111"/>
<text x="60.7" y="420.2" font-size="7.4" font-family='"Liberation Sans", sans-serif' font-weight="normal" font-style="normal" fill="#555" text-anchor="start" textLength="22.5" lengthAdjust="spacingAndGlyphs" stroke="#555" stroke-width="0.2">HP113DIS</text>
<polygon points="55.3,430.5 56.8,427.4 53.8,427.4" fill="#111"/>
<text x="60.7" y="431.2" font-size="7.4" font-family='"Liberation Sans", sans-serif' font-weight="normal" font-style="normal" fill="#555" text-anchor="start" textLength="25.5" lengthAdjust="spacingAndGlyphs" stroke="#555" stroke-width="0.2">HP113αDIS</text>
<line x1="50.7" y1="439.4" x2="58.7" y2="439.4" stroke="#555" stroke-width="1.0" stroke-dasharray="0.7,0.6"/>
<text x="60.7" y="442.0" font-size="7.4" font-family='"Liberation Sans", sans-serif' font-weight="normal" font-style="normal" fill="#555" text-anchor="start" textLength="13.5" lengthAdjust="spacingAndGlyphs" stroke="#555" stroke-width="0.2">HP113</text>
<line x1="50.7" y1="450.2" x2="58.7" y2="450.2" stroke="#222" stroke-width="1.0" stroke-dasharray="1.8,0.6,0.6,0.6"/>
<text x="60.7" y="452.8" font-size="7.4" font-family='"Liberation Sans", sans-serif' font-weight="normal" font-style="normal" fill="#555" text-anchor="start" textLength="22.5" lengthAdjust="spacingAndGlyphs" stroke="#555" stroke-width="0.2">HP113DIS</text>
<line x1="50.7" y1="461.4" x2="58.7" y2="461.4" stroke="#222" stroke-width="1.0" stroke-dasharray="1.3,0.5,0.5,0.5,0.5,0.5"/>
<text x="60.7" y="464.0" font-size="7.4" font-family='"Liberation Sans", sans-serif' font-weight="normal" font-style="normal" fill="#555" text-anchor="start" textLength="25.5" lengthAdjust="spacingAndGlyphs" stroke="#555" stroke-width="0.2">HP113αDIS</text>
<line x1="296.3" y1="279.9" x2="296.3" y2="375.2" stroke="#222" stroke-width="1.3"/>
<line x1="295.7" y1="375.2" x2="382.1" y2="375.2" stroke="#222" stroke-width="1.3"/>
<line x1="294.7" y1="369.0" x2="296.3" y2="369.0" stroke="#222" stroke-width="0.8"/>
<line x1="294.7" y1="346.9" x2="296.3" y2="346.9" stroke="#222" stroke-width="0.8"/>
<line x1="294.7" y1="324.7" x2="296.3" y2="324.7" stroke="#222" stroke-width="0.8"/>
<line x1="294.7" y1="302.6" x2="296.3" y2="302.6" stroke="#222" stroke-width="0.8"/>
<line x1="294.7" y1="280.4" x2="296.3" y2="280.4" stroke="#222" stroke-width="0.8"/>
<line x1="300.2" y1="375.2" x2="300.2" y2="377.0" stroke="#222" stroke-width="0.8"/>
<line x1="309.0" y1="375.2" x2="309.0" y2="376.4" stroke="#222" stroke-width="0.8"/>
<line x1="317.7" y1="375.2" x2="317.7" y2="376.4" stroke="#222" stroke-width="0.8"/>
<line x1="326.5" y1="375.2" x2="326.5" y2="377.0" stroke="#222" stroke-width="0.8"/>
<line x1="335.3" y1="375.2" x2="335.3" y2="376.4" stroke="#222" stroke-width="0.8"/>
<line x1="344.1" y1="375.2" x2="344.1" y2="376.4" stroke="#222" stroke-width="0.8"/>
<line x1="352.8" y1="375.2" x2="352.8" y2="377.0" stroke="#222" stroke-width="0.8"/>
<line x1="361.6" y1="375.2" x2="361.6" y2="376.4" stroke="#222" stroke-width="0.8"/>
<line x1="370.4" y1="375.2" x2="370.4" y2="376.4" stroke="#222" stroke-width="0.8"/>
<line x1="379.1" y1="375.2" x2="379.1" y2="377.0" stroke="#222" stroke-width="0.8"/>
<text x="294.1" y="370.9" font-size="5.6" font-family='"Liberation Sans", sans-serif' font-weight="bold" font-style="normal" fill="#222" text-anchor="end" textLength="1.8" lengthAdjust="spacingAndGlyphs" stroke="#222" stroke-width="0.25">0</text>
<text x="294.1" y="326.6" font-size="5.6" font-family='"Liberation Sans", sans-serif' font-weight="bold" font-style="normal" fill="#222" text-anchor="end" textLength="4.0" lengthAdjust="spacingAndGlyphs" stroke="#222" stroke-width="0.25">50</text>
<text x="294.1" y="282.3" font-size="5.6" font-family='"Liberation Sans", sans-serif' font-weight="bold" font-style="normal" fill="#222" text-anchor="end" textLength="6.4" lengthAdjust="spacingAndGlyphs" stroke="#222" stroke-width="0.25">100</text>
<text x="300.2" y="385.0" font-size="6.2" font-family='"Liberation Sans", sans-serif' font-weight="bold" font-style="normal" fill="#222" text-anchor="middle" textLength="2.0" lengthAdjust="spacingAndGlyphs" stroke="#222" stroke-width="0.25">0</text>
<text x="326.5" y="385.0" font-size="6.2" font-family='"Liberation Sans", sans-serif' font-weight="bold" font-style="normal" fill="#222" text-anchor="middle" textLength="4.3" lengthAdjust="spacingAndGlyphs" stroke="#222" stroke-width="0.25">30</text>
<text x="352.8" y="385.0" font-size="6.2" font-family='"Liberation Sans", sans-serif' font-weight="bold" font-style="normal" fill="#222" text-anchor="middle" textLength="4.3" lengthAdjust="spacingAndGlyphs" stroke="#222" stroke-width="0.25">60</text>
<text x="379.1" y="385.0" font-size="6.2" font-family='"Liberation Sans", sans-serif' font-weight="bold" font-style="normal" fill="#222" text-anchor="middle" textLength="4.3" lengthAdjust="spacingAndGlyphs" stroke="#222" stroke-width="0.25">90</text>
<text x="339.7" y="395.5" font-size="6.4" font-family='"Liberation Sans", sans-serif' font-weight="bold" font-style="normal" fill="#222" text-anchor="middle" textLength="23.5" lengthAdjust="spacingAndGlyphs" stroke="#222" stroke-width="0.3">Time (min)</text>
<text x="0" y="0" font-size="6.2" font-family='"Liberation Sans", sans-serif' font-weight="bold" fill="#222" stroke="#222" stroke-width="0.3" text-anchor="middle" textLength="42" lengthAdjust="spacing" transform="translate(284.2 327.5) rotate(-90)">% Cleavage</text>
<text x="303.6" y="269.0" font-size="8.6" font-family='"Liberation Sans", sans-serif' font-weight="bold" fill="#111" stroke="#111" stroke-width="0.45" textLength="72.2" lengthAdjust="spacingAndGlyphs">HP159 <tspan font-style="italic">trans</tspan>-cleaving RNAs</text>
<polyline points="300.20,369.00 301.52,364.05 302.83,359.42 304.15,355.10 305.46,351.07 306.78,347.30 308.09,343.78 309.41,340.50 310.72,337.43 312.04,334.57 313.35,331.90 314.67,329.40 315.99,327.07 317.30,324.89 318.62,322.86 319.93,320.96 321.25,319.19 322.56,317.54 323.88,315.99 325.19,314.55 326.51,313.20 327.83,311.95 329.14,310.77 330.46,309.68 331.77,308.65 333.09,307.70 334.40,306.80 335.72,305.97 337.03,305.19 338.35,304.46 339.66,303.79 340.98,303.15 342.30,302.56 343.61,302.01 344.93,301.49 346.24,301.01 347.56,300.56 348.87,300.14 350.19,299.75 351.50,299.38 352.82,299.04 354.14,298.72 355.45,298.42 356.77,298.14 358.08,297.88 359.40,297.64 360.71,297.42 362.03,297.20 363.34,297.01 364.66,296.82 365.98,296.65 367.29,296.49 368.61,296.34 369.92,296.20 371.24,296.07 372.55,295.94 373.87,295.83 375.18,295.72 376.50,295.62 377.81,295.53 379.13,295.44" fill="none" stroke="#555" stroke-width="1.0" stroke-dasharray="0.7,0.6"/>
<polyline points="300.20,369.00 301.52,364.64 302.83,360.55 304.15,356.71 305.46,353.12 306.78,349.74 308.09,346.58 309.41,343.62 310.72,340.84 312.04,338.23 313.35,335.78 314.67,333.49 315.99,331.34 317.30,329.33 318.62,327.44 319.93,325.67 321.25,324.00 322.56,322.45 323.88,320.99 325.19,319.62 326.51,318.33 327.83,317.13 329.14,316.00 330.46,314.94 331.77,313.95 333.09,313.01 334.40,312.14 335.72,311.32 337.03,310.56 338.35,309.84 339.66,309.16 340.98,308.53 342.30,307.93 343.61,307.38 344.93,306.86 346.24,306.37 347.56,305.91 348.87,305.48 350.19,305.07 351.50,304.70 352.82,304.34 354.14,304.01 355.45,303.70 356.77,303.40 358.08,303.13 359.40,302.87 360.71,302.63 362.03,302.41 363.34,302.19 364.66,302.00 365.98,301.81 367.29,301.63 368.61,301.47 369.92,301.32 371.24,301.17 372.55,301.04 373.87,300.91 375.18,300.79 376.50,300.68 377.81,300.58 379.13,300.48" fill="none" stroke="#222" stroke-width="1.0" stroke-dasharray="1.8,0.6,0.6,0.6"/>
<polyline points="300.20,369.00 301.52,364.35 302.83,359.99 304.15,355.90 305.46,352.07 306.78,348.49 308.09,345.12 309.41,341.97 310.72,339.02 312.04,336.25 313.35,333.66 314.67,331.23 315.99,328.95 317.30,326.82 318.62,324.82 319.93,322.95 321.25,321.19 322.56,319.54 323.88,318.00 325.19,316.56 326.51,315.20 327.83,313.93 329.14,312.74 330.46,311.63 331.77,310.58 333.09,309.60 334.40,308.69 335.72,307.83 337.03,307.02 338.35,306.27 339.66,305.56 340.98,304.90 342.30,304.28 343.61,303.69 344.93,303.15 346.24,302.64 347.56,302.16 348.87,301.71 350.19,301.29 351.50,300.89 352.82,300.52 354.14,300.18 355.45,299.85 356.77,299.55 358.08,299.27 359.40,299.00 360.71,298.75 362.03,298.51 363.34,298.29 364.66,298.09 365.98,297.89 367.29,297.71 368.61,297.54 369.92,297.39 371.24,297.24 372.55,297.10 373.87,296.97 375.18,296.84 376.50,296.73 377.81,296.62 379.13,296.52" fill="none" stroke="#222" stroke-width="1.0" stroke-dasharray="1.3,0.5,0.5,0.5,0.5,0.5"/>
<rect x="298.7" y="367.5" width="3.0" height="3.0" fill="#111"/>
<line x1="309.0" y1="341.5" x2="309.0" y2="348.6" stroke="#333" stroke-width="0.9"/>
<line x1="307.6" y1="341.5" x2="310.4" y2="341.5" stroke="#222" stroke-width="1.0"/>
<line x1="307.6" y1="348.6" x2="310.4" y2="348.6" stroke="#222" stroke-width="1.0"/>
<rect x="307.5" y="343.6" width="3.0" height="3.0" fill="#111"/>
<line x1="326.5" y1="307.9" x2="326.5" y2="320.3" stroke="#333" stroke-width="0.9"/>
<line x1="325.1" y1="307.9" x2="327.9" y2="307.9" stroke="#222" stroke-width="1.0"/>
<line x1="325.1" y1="320.3" x2="327.9" y2="320.3" stroke="#222" stroke-width="1.0"/>
<rect x="325.0" y="312.6" width="3.0" height="3.0" fill="#111"/>
<line x1="352.8" y1="291.0" x2="352.8" y2="305.2" stroke="#333" stroke-width="0.9"/>
<line x1="351.4" y1="291.0" x2="354.2" y2="291.0" stroke="#222" stroke-width="1.0"/>
<line x1="351.4" y1="305.2" x2="354.2" y2="305.2" stroke="#222" stroke-width="1.0"/>
<rect x="351.3" y="296.6" width="3.0" height="3.0" fill="#111"/>
<line x1="379.1" y1="286.6" x2="379.1" y2="299.0" stroke="#333" stroke-width="0.9"/>
<line x1="377.7" y1="286.6" x2="380.5" y2="286.6" stroke="#222" stroke-width="1.0"/>
<line x1="377.7" y1="299.0" x2="380.5" y2="299.0" stroke="#222" stroke-width="1.0"/>
<rect x="377.6" y="291.3" width="3.0" height="3.0" fill="#111"/>
<line x1="309.0" y1="346.0" x2="309.0" y2="353.1" stroke="#333" stroke-width="0.9"/>
<line x1="307.6" y1="346.0" x2="310.4" y2="346.0" stroke="#222" stroke-width="1.0"/>
<line x1="307.6" y1="353.1" x2="310.4" y2="353.1" stroke="#222" stroke-width="1.0"/>
<polygon points="309.0,347.7 310.6,351.0 307.3,351.0" fill="#111"/>
<line x1="326.5" y1="312.3" x2="326.5" y2="326.5" stroke="#333" stroke-width="0.9"/>
<line x1="325.1" y1="312.3" x2="327.9" y2="312.3" stroke="#222" stroke-width="1.0"/>
<line x1="325.1" y1="326.5" x2="327.9" y2="326.5" stroke="#222" stroke-width="1.0"/>
<polygon points="326.5,317.6 328.2,320.9 324.9,320.9" fill="#111"/>
<line x1="352.8" y1="296.3" x2="352.8" y2="312.3" stroke="#333" stroke-width="0.9"/>
<line x1="351.4" y1="296.3" x2="354.2" y2="296.3" stroke="#222" stroke-width="1.0"/>
<line x1="351.4" y1="312.3" x2="354.2" y2="312.3" stroke="#222" stroke-width="1.0"/>
<polygon points="352.8,302.5 354.5,305.8 351.2,305.8" fill="#111"/>
<line x1="379.1" y1="291.9" x2="379.1" y2="304.3" stroke="#333" stroke-width="0.9"/>
<line x1="377.7" y1="291.9" x2="380.5" y2="291.9" stroke="#222" stroke-width="1.0"/>
<line x1="377.7" y1="304.3" x2="380.5" y2="304.3" stroke="#222" stroke-width="1.0"/>
<polygon points="379.1,296.3 380.8,299.6 377.5,299.6" fill="#111"/>
<line x1="309.0" y1="339.8" x2="309.0" y2="345.1" stroke="#333" stroke-width="0.9"/>
<line x1="307.6" y1="339.8" x2="310.4" y2="339.8" stroke="#222" stroke-width="1.0"/>
<line x1="307.6" y1="345.1" x2="310.4" y2="345.1" stroke="#222" stroke-width="1.0"/>
<polygon points="309.0,344.2 310.6,340.9 307.3,340.9" fill="#111"/>
<line x1="326.5" y1="304.3" x2="326.5" y2="315.0" stroke="#333" stroke-width="0.9"/>
<line x1="325.1" y1="304.3" x2="327.9" y2="304.3" stroke="#222" stroke-width="1.0"/>
<line x1="325.1" y1="315.0" x2="327.9" y2="315.0" stroke="#222" stroke-width="1.0"/>
<polygon points="326.5,311.4 328.2,308.1 324.9,308.1" fill="#111"/>
<line x1="352.8" y1="289.3" x2="352.8" y2="299.9" stroke="#333" stroke-width="0.9"/>
<line x1="351.4" y1="289.3" x2="354.2" y2="289.3" stroke="#222" stroke-width="1.0"/>
<line x1="351.4" y1="299.9" x2="354.2" y2="299.9" stroke="#222" stroke-width="1.0"/>
<polygon points="352.8,296.4 354.5,293.1 351.2,293.1" fill="#111"/>
<line x1="379.1" y1="283.9" x2="379.1" y2="294.6" stroke="#333" stroke-width="0.9"/>
<line x1="377.7" y1="283.9" x2="380.5" y2="283.9" stroke="#222" stroke-width="1.0"/>
<line x1="377.7" y1="294.6" x2="380.5" y2="294.6" stroke="#222" stroke-width="1.0"/>
<polygon points="379.1,291.1 380.8,287.8 377.5,287.8" fill="#111"/>
<text x="298.8" y="403.0" font-size="15.2" font-family='"Liberation Sans", sans-serif' font-weight="bold" font-style="normal" fill="#111" text-anchor="start" textLength="9.6" lengthAdjust="spacingAndGlyphs" stroke="#111" stroke-width="0.6">D)</text>
<rect x="327.6" y="405.7" width="2.8" height="2.8" fill="#111"/>
<text x="334.4" y="409.5" font-size="7.4" font-family='"Liberation Sans", sans-serif' font-weight="normal" font-style="normal" fill="#555" text-anchor="start" textLength="13.5" lengthAdjust="spacingAndGlyphs" stroke="#555" stroke-width="0.2">HP159</text>
<polygon points="329.0,416.4 330.5,419.5 327.5,419.5" fill="#111"/>
<text x="334.4" y="420.5" font-size="7.4" font-family='"Liberation Sans", sans-serif' font-weight="normal" font-style="normal" fill="#555" text-anchor="start" textLength="22.5" lengthAdjust="spacingAndGlyphs" stroke="#555" stroke-width="0.2">HP159DIS</text>
<polygon points="329.0,431.1 330.5,428.0 327.5,428.0" fill="#111"/>
<text x="334.4" y="431.8" font-size="7.4" font-family='"Liberation Sans", sans-serif' font-weight="normal" font-style="normal" fill="#555" text-anchor="start" textLength="25.5" lengthAdjust="spacingAndGlyphs" stroke="#555" stroke-width="0.2">HP159αDIS</text>
<line x1="324.4" y1="439.6" x2="332.4" y2="439.6" stroke="#555" stroke-width="1.0" stroke-dasharray="0.7,0.6"/>
<text x="334.4" y="442.2" font-size="7.4" font-family='"Liberation Sans", sans-serif' font-weight="normal" font-style="normal" fill="#555" text-anchor="start" textLength="13.5" lengthAdjust="spacingAndGlyphs" stroke="#555" stroke-width="0.2">HP159</text>
<line x1="324.4" y1="450.4" x2="332.4" y2="450.4" stroke="#222" stroke-width="1.0" stroke-dasharray="1.8,0.6,0.6,0.6"/>
<text x="334.4" y="453.0" font-size="7.4" font-family='"Liberation Sans", sans-serif' font-weight="normal" font-style="normal" fill="#555" text-anchor="start" textLength="22.5" lengthAdjust="spacingAndGlyphs" stroke="#555" stroke-width="0.2">HP159DIS</text>
<line x1="324.4" y1="461.2" x2="332.4" y2="461.2" stroke="#222" stroke-width="1.0" stroke-dasharray="1.3,0.5,0.5,0.5,0.5,0.5"/>
<text x="334.4" y="463.8" font-size="7.4" font-family='"Liberation Sans", sans-serif' font-weight="normal" font-style="normal" fill="#555" text-anchor="start" textLength="25.5" lengthAdjust="spacingAndGlyphs" stroke="#555" stroke-width="0.2">HP159αDIS</text>
<rect x="113.6" y="34.9" width="103.7" height="188.7" fill="#fff" stroke="#a4a4a4" stroke-width="1.2"/>
<ellipse cx="118.0" cy="43.6" rx="3.00" ry="1.75" fill="rgb(16,16,16)" transform="rotate(23.02549200852803 118.0 43.6)" filter="url(#bl)"/>
<ellipse cx="126.0" cy="47.0" rx="3.00" ry="1.75" fill="rgb(94,94,94)" transform="rotate(17.628339345143207 126.0 47.0)" filter="url(#bl)"/>
<ellipse cx="133.6" cy="48.6" rx="3.00" ry="1.75" fill="rgb(189,189,189)" transform="rotate(8.897169542644825 133.6 48.6)" filter="url(#bl)"/>
<ellipse cx="141.4" cy="49.4" rx="3.00" ry="1.75" fill="rgb(201,201,201)" transform="rotate(-0.7345210342548386 141.4 49.4)" filter="url(#bl)"/>
<ellipse cx="149.2" cy="48.4" rx="3.00" ry="1.75" fill="rgb(16,16,16)" transform="rotate(-8.746162262555206 149.2 48.4)" filter="url(#bl)"/>
<ellipse cx="157.0" cy="47.0" rx="3.00" ry="1.75" fill="rgb(64,64,64)" transform="rotate(-12.119837302818002 157.0 47.0)" filter="url(#bl)"/>
<ellipse cx="165.0" cy="45.0" rx="3.00" ry="1.75" fill="rgb(151,151,151)" transform="rotate(-11.996899307923576 165.0 45.0)" filter="url(#bl)"/>
<ellipse cx="173.0" cy="43.6" rx="3.00" ry="1.75" fill="rgb(201,201,201)" transform="rotate(-5.000644597558428 173.0 43.6)" filter="url(#bl)"/>
<ellipse cx="181.0" cy="43.6" rx="3.00" ry="1.75" fill="rgb(16,16,16)" transform="rotate(0.0 181.0 43.6)" filter="url(#bl)"/>
<ellipse cx="188.6" cy="43.6" rx="3.00" ry="1.75" fill="rgb(32,32,32)" transform="rotate(-2.1475854282985085 188.6 43.6)" filter="url(#bl)"/>
<ellipse cx="196.6" cy="43.0" rx="3.00" ry="1.75" fill="rgb(151,151,151)" transform="rotate(-7.524897312270622 196.6 43.0)" filter="url(#bl)"/>
<ellipse cx="204.0" cy="41.6" rx="3.00" ry="1.75" fill="rgb(201,201,201)" transform="rotate(-12.38526095988924 204.0 41.6)" filter="url(#bl)"/>
<ellipse cx="212.0" cy="39.6" rx="3.00" ry="1.75" fill="rgb(32,32,32)" transform="rotate(-14.036243467926479 212.0 39.6)" filter="url(#bl)"/>
<ellipse cx="118.0" cy="88.6" rx="3.00" ry="1.75" fill="rgb(151,151,151)" transform="rotate(23.02549200852807 118.0 88.6)" filter="url(#bl)"/>
<ellipse cx="126.0" cy="92.0" rx="3.00" ry="1.75" fill="rgb(79,79,79)" transform="rotate(18.98726167655357 126.0 92.0)" filter="url(#bl)"/>
<ellipse cx="133.6" cy="94.0" rx="3.00" ry="1.75" fill="rgb(32,32,32)" transform="rotate(11.071821514377945 133.6 94.0)" filter="url(#bl)"/>
<ellipse cx="141.4" cy="95.0" rx="3.00" ry="1.75" fill="rgb(16,16,16)" transform="rotate(-1.3517357396219947e-14 141.4 95.0)" filter="url(#bl)"/>
<ellipse cx="149.2" cy="94.0" rx="3.00" ry="1.75" fill="rgb(201,201,201)" transform="rotate(-10.885527054658738 149.2 94.0)" filter="url(#bl)"/>
<ellipse cx="157.0" cy="92.0" rx="3.00" ry="1.75" fill="rgb(94,94,94)" transform="rotate(-16.86757261600745 157.0 92.0)" filter="url(#bl)"/>
<ellipse cx="165.0" cy="89.2" rx="3.00" ry="1.75" fill="rgb(48,48,48)" transform="rotate(-17.35402463626132 165.0 89.2)" filter="url(#bl)"/>
<ellipse cx="173.0" cy="87.0" rx="3.00" ry="1.75" fill="rgb(32,32,32)" transform="rotate(-7.8290765100596165 173.0 87.0)" filter="url(#bl)"/>
<ellipse cx="181.0" cy="87.0" rx="3.00" ry="1.75" fill="rgb(201,201,201)" transform="rotate(-2.2605019111412523 181.0 87.0)" filter="url(#bl)"/>
<ellipse cx="188.6" cy="86.4" rx="3.00" ry="1.75" fill="rgb(123,123,123)" transform="rotate(-7.2363331932426185 188.6 86.4)" filter="url(#bl)"/>
<ellipse cx="196.6" cy="85.0" rx="3.00" ry="1.75" fill="rgb(79,79,79)" transform="rotate(-12.551350578531405 196.6 85.0)" filter="url(#bl)"/>
<ellipse cx="204.0" cy="83.0" rx="3.00" ry="1.75" fill="rgb(64,64,64)" transform="rotate(-15.124007308310556 204.0 83.0)" filter="url(#bl)"/>
<ellipse cx="118.6" cy="146.0" rx="3.00" ry="1.75" fill="rgb(123,123,123)" transform="rotate(16.69924423399366 118.6 146.0)" filter="url(#bl)"/>
<ellipse cx="126.6" cy="148.4" rx="3.00" ry="1.75" fill="rgb(79,79,79)" transform="rotate(16.422187498315278 126.6 148.4)" filter="url(#bl)"/>
<ellipse cx="134.2" cy="150.6" rx="3.00" ry="1.75" fill="rgb(32,32,32)" transform="rotate(11.090437996109094 134.2 150.6)" filter="url(#bl)"/>
<ellipse cx="142.0" cy="151.4" rx="3.00" ry="1.75" fill="rgb(16,16,16)" transform="rotate(-1.033680271475643e-14 142.0 151.4)" filter="url(#bl)"/>
<ellipse cx="149.8" cy="150.6" rx="3.00" ry="1.75" fill="rgb(212,212,212)" transform="rotate(-12.29526642299816 149.8 150.6)" filter="url(#bl)"/>
<ellipse cx="157.6" cy="148.0" rx="3.00" ry="1.75" fill="rgb(94,94,94)" transform="rotate(-17.57125877832241 157.6 148.0)" filter="url(#bl)"/>
<ellipse cx="165.6" cy="145.6" rx="3.00" ry="1.75" fill="rgb(48,48,48)" transform="rotate(-17.35402463626132 165.6 145.6)" filter="url(#bl)"/>
<ellipse cx="173.6" cy="143.0" rx="3.00" ry="1.75" fill="rgb(32,32,32)" transform="rotate(-12.6803834918198 173.6 143.0)" filter="url(#bl)"/>
<ellipse cx="181.6" cy="142.0" rx="3.00" ry="1.75" fill="rgb(212,212,212)" transform="rotate(-5.075452378479008 181.6 142.0)" filter="url(#bl)"/>
<ellipse cx="189.2" cy="141.6" rx="3.00" ry="1.75" fill="rgb(123,123,123)" transform="rotate(-7.199233638367649 189.2 141.6)" filter="url(#bl)"/>
<ellipse cx="197.2" cy="140.0" rx="3.00" ry="1.75" fill="rgb(94,94,94)" transform="rotate(-16.84120573614235 197.2 140.0)" filter="url(#bl)"/>
<ellipse cx="204.6" cy="137.0" rx="3.00" ry="1.75" fill="rgb(64,64,64)" transform="rotate(-22.0678995624102 204.6 137.0)" filter="url(#bl)"/>
<ellipse cx="149.2" cy="184.8" rx="3.00" ry="1.75" fill="rgb(39,39,39)" transform="rotate(-11.592175410291215 149.2 184.8)" filter="url(#bl)"/>
<ellipse cx="157.0" cy="183.2" rx="3.00" ry="1.75" fill="rgb(39,39,39)" transform="rotate(-11.451124350646824 157.0 183.2)" filter="url(#bl)"/>
<ellipse cx="165.0" cy="181.6" rx="3.00" ry="1.75" fill="rgb(39,39,39)" transform="rotate(-11.996899307923501 165.0 181.6)" filter="url(#bl)"/>
<ellipse cx="173.0" cy="179.8" rx="3.00" ry="1.75" fill="rgb(39,39,39)" transform="rotate(-11.309932474020174 173.0 179.8)" filter="url(#bl)"/>
<ellipse cx="181.0" cy="178.4" rx="3.00" ry="1.75" fill="rgb(39,39,39)" transform="rotate(-8.715001701272447 181.0 178.4)" filter="url(#bl)"/>
<ellipse cx="188.6" cy="177.4" rx="3.00" ry="1.75" fill="rgb(39,39,39)" transform="rotate(-10.801618235690711 188.6 177.4)" filter="url(#bl)"/>
<ellipse cx="196.6" cy="175.4" rx="3.00" ry="1.75" fill="rgb(39,39,39)" transform="rotate(-18.840473352188113 196.6 175.4)" filter="url(#bl)"/>
<ellipse cx="204.0" cy="172.2" rx="3.00" ry="1.75" fill="rgb(39,39,39)" transform="rotate(-23.38522105721385 204.0 172.2)" filter="url(#bl)"/>
<ellipse cx="123.0" cy="215.5" rx="3.00" ry="1.75" fill="rgb(189,189,189)" transform="rotate(17.102728969052375 123.0 215.5)" filter="url(#bl)"/>
<ellipse cx="129.5" cy="217.5" rx="3.00" ry="1.75" fill="rgb(233,233,233)" transform="rotate(7.450249068656134 129.5 217.5)" filter="url(#bl)"/>
<ellipse cx="136.0" cy="217.2" rx="3.00" ry="1.75" fill="rgb(238,238,238)" transform="rotate(2.495928328617232 136.0 217.2)" filter="url(#bl)"/>
<ellipse cx="142.0" cy="218.0" rx="3.00" ry="1.75" fill="rgb(238,238,238)" transform="rotate(7.5946433685915515 142.0 218.0)" filter="url(#bl)"/>
<rect x="113.6" y="34.9" width="103.7" height="188.7" fill="none" stroke="#a4a4a4" stroke-width="1.2"/>
<rect x="387.8" y="34.9" width="103.1" height="188.7" fill="#fff" stroke="#a4a4a4" stroke-width="1.2"/>
<linearGradient id="sm1" x1="0" y1="0" x2="0" y2="1"><stop offset="0" stop-color="#000" stop-opacity="0.200"/><stop offset="1" stop-color="#000" stop-opacity="0.060"/></linearGradient>
<rect x="484.1" y="41.0" width="3.0" height="181.0" fill="url(#sm1)" filter="url(#bl2)"/>
<linearGradient id="sm2" x1="0" y1="0" x2="0" y2="1"><stop offset="0" stop-color="#000" stop-opacity="0.040"/><stop offset="1" stop-color="#000" stop-opacity="0.030"/></linearGradient>
<rect x="462.2" y="50.0" width="1.5" height="172.0" fill="url(#sm2)" filter="url(#bl2)"/>
<linearGradient id="sm3" x1="0" y1="0" x2="0" y2="1"><stop offset="0" stop-color="#000" stop-opacity="0.040"/><stop offset="1" stop-color="#000" stop-opacity="0.030"/></linearGradient>
<rect x="469.6" y="50.0" width="1.5" height="172.0" fill="url(#sm3)" filter="url(#bl2)"/>
<linearGradient id="sm4" x1="0" y1="0" x2="0" y2="1"><stop offset="0" stop-color="#000" stop-opacity="0.050"/><stop offset="1" stop-color="#000" stop-opacity="0.030"/></linearGradient>
<rect x="476.9" y="50.0" width="1.5" height="172.0" fill="url(#sm4)" filter="url(#bl2)"/>
<linearGradient id="sm5" x1="0" y1="0" x2="0" y2="1"><stop offset="0" stop-color="#000" stop-opacity="0.030"/><stop offset="1" stop-color="#000" stop-opacity="0.030"/></linearGradient>
<rect x="423.2" y="50.0" width="1.5" height="172.0" fill="url(#sm5)" filter="url(#bl2)"/>
<linearGradient id="sm6" x1="0" y1="0" x2="0" y2="1"><stop offset="0" stop-color="#000" stop-opacity="0.030"/><stop offset="1" stop-color="#000" stop-opacity="0.030"/></linearGradient>
<rect x="453.6" y="50.0" width="1.5" height="172.0" fill="url(#sm6)" filter="url(#bl2)"/>
<ellipse cx="392.4" cy="45.4" rx="2.80" ry="1.50" fill="rgb(9,9,9)" transform="rotate(8.530765609948153 392.4 45.4)" filter="url(#bl)"/>
<ellipse cx="400.4" cy="46.6" rx="2.80" ry="1.50" fill="rgb(16,16,16)" transform="rotate(10.947030185429405 400.4 46.6)" filter="url(#bl)"/>
<ellipse cx="408.0" cy="48.4" rx="2.80" ry="1.50" fill="rgb(48,48,48)" transform="rotate(13.324531261890751 408.0 48.4)" filter="url(#bl)"/>
<ellipse cx="415.6" cy="50.2" rx="2.80" ry="1.50" fill="rgb(88,88,88)" transform="rotate(6.04628489924961 415.6 50.2)" filter="url(#bl)"/>
<ellipse cx="423.6" cy="50.0" rx="2.80" ry="1.50" fill="rgb(9,9,9)" transform="rotate(-4.380448899973077 423.6 50.0)" filter="url(#bl)"/>
<ellipse cx="431.4" cy="49.0" rx="2.80" ry="1.50" fill="rgb(22,22,22)" transform="rotate(-8.878300401635148 431.4 49.0)" filter="url(#bl)"/>
<ellipse cx="439.0" cy="47.6" rx="2.80" ry="1.50" fill="rgb(94,94,94)" transform="rotate(-12.424380523118431 439.0 47.6)" filter="url(#bl)"/>
<ellipse cx="446.8" cy="45.6" rx="2.80" ry="1.50" fill="rgb(177,177,177)" transform="rotate(-7.305759533310815 446.8 45.6)" filter="url(#bl)"/>
<ellipse cx="454.4" cy="45.6" rx="2.80" ry="1.50" fill="rgb(26,26,26)" transform="rotate(1.4320961841646414 454.4 45.6)" filter="url(#bl)"/>
<ellipse cx="462.4" cy="46.0" rx="2.80" ry="1.50" fill="rgb(32,32,32)" transform="rotate(-0.07538914006273906 462.4 46.0)" filter="url(#bl)"/>
<ellipse cx="470.0" cy="45.6" rx="2.80" ry="1.50" fill="rgb(123,123,123)" transform="rotate(-8.972626614896361 470.0 45.6)" filter="url(#bl)"/>
<ellipse cx="477.6" cy="43.6" rx="2.80" ry="1.50" fill="rgb(189,189,189)" transform="rotate(-22.737531727708486 477.6 43.6)" filter="url(#bl)"/>
<ellipse cx="485.6" cy="39.0" rx="2.80" ry="1.50" fill="rgb(0,0,0)" transform="rotate(-29.898901838614574 485.6 39.0)" filter="url(#bl)"/>
<ellipse cx="392.4" cy="107.0" rx="2.80" ry="1.50" fill="rgb(238,238,238)" transform="rotate(9.926245506651744 392.4 107.0)" filter="url(#bl)"/>
<ellipse cx="400.4" cy="108.4" rx="2.80" ry="1.50" fill="rgb(212,212,212)" transform="rotate(10.910690503845668 400.4 108.4)" filter="url(#bl)"/>
<ellipse cx="408.0" cy="110.0" rx="2.80" ry="1.50" fill="rgb(177,177,177)" transform="rotate(11.8886580396279 408.0 110.0)" filter="url(#bl)"/>
<ellipse cx="415.6" cy="111.6" rx="2.80" ry="1.50" fill="rgb(137,137,137)" transform="rotate(0.3015539498682596 415.6 111.6)" filter="url(#bl)"/>
<ellipse cx="423.6" cy="110.0" rx="2.80" ry="1.50" fill="rgb(245,245,245)" transform="rotate(-4.252628963578952 423.6 110.0)" filter="url(#bl)"/>
<ellipse cx="431.4" cy="110.4" rx="2.80" ry="1.50" fill="rgb(223,223,223)" transform="rotate(-3.8025276634406038 431.4 110.4)" filter="url(#bl)"/>
<ellipse cx="439.0" cy="109.0" rx="2.80" ry="1.50" fill="rgb(164,164,164)" transform="rotate(-14.508288643245331 439.0 109.0)" filter="url(#bl)"/>
<ellipse cx="446.8" cy="106.4" rx="2.80" ry="1.50" fill="rgb(123,123,123)" transform="rotate(-10.922804719869257 446.8 106.4)" filter="url(#bl)"/>
<ellipse cx="454.4" cy="106.0" rx="2.80" ry="1.50" fill="rgb(242,242,242)" transform="rotate(-2.9376014287716976 454.4 106.0)" filter="url(#bl)"/>
<ellipse cx="462.4" cy="105.6" rx="2.80" ry="1.50" fill="rgb(189,189,189)" transform="rotate(-7.421738885448941 462.4 105.6)" filter="url(#bl)"/>
<ellipse cx="470.0" cy="104.0" rx="2.80" ry="1.50" fill="rgb(164,164,164)" transform="rotate(-21.540975918538383 470.0 104.0)" filter="url(#bl)"/>
<ellipse cx="477.6" cy="99.6" rx="2.80" ry="1.50" fill="rgb(123,123,123)" transform="rotate(-30.068582821862407 477.6 99.6)" filter="url(#bl)"/>
<ellipse cx="408.0" cy="117.0" rx="2.80" ry="1.50" fill="rgb(238,238,238)" transform="rotate(7.495857639729838 408.0 117.0)" filter="url(#bl)"/>
<ellipse cx="415.6" cy="118.0" rx="2.80" ry="1.50" fill="rgb(227,227,227)" transform="rotate(7.495857639729838 415.6 118.0)" filter="url(#bl)"/>
<ellipse cx="439.0" cy="115.0" rx="2.80" ry="1.50" fill="rgb(238,238,238)" transform="rotate(-14.381394591090585 439.0 115.0)" filter="url(#bl)"/>
<ellipse cx="446.8" cy="113.0" rx="2.80" ry="1.50" fill="rgb(233,233,233)" transform="rotate(-14.381394591090585 446.8 113.0)" filter="url(#bl)"/>
<ellipse cx="470.0" cy="109.0" rx="2.80" ry="1.50" fill="rgb(242,242,242)" transform="rotate(-21.540975918538383 470.0 109.0)" filter="url(#bl)"/>
<ellipse cx="477.6" cy="106.0" rx="2.80" ry="1.50" fill="rgb(233,233,233)" transform="rotate(-21.540975918538383 477.6 106.0)" filter="url(#bl)"/>
<ellipse cx="424.1" cy="182.4" rx="2.80" ry="1.50" fill="rgb(0,0,0)" transform="rotate(-10.175510843043305 424.1 182.4)" filter="url(#bl)"/>
<ellipse cx="431.9" cy="181.0" rx="2.80" ry="1.50" fill="rgb(0,0,0)" transform="rotate(-10.306547548853262 431.9 181.0)" filter="url(#bl)"/>
<ellipse cx="439.5" cy="179.6" rx="2.80" ry="1.50" fill="rgb(0,0,0)" transform="rotate(-14.508288643245331 439.5 179.6)" filter="url(#bl)"/>
<ellipse cx="447.3" cy="177.0" rx="2.80" ry="1.50" fill="rgb(0,0,0)" transform="rotate(-16.606980578617005 447.3 177.0)" filter="url(#bl)"/>
<ellipse cx="454.9" cy="175.0" rx="2.80" ry="1.50" fill="rgb(0,0,0)" transform="rotate(-12.357072651226504 454.9 175.0)" filter="url(#bl)"/>
<ellipse cx="462.9" cy="173.6" rx="2.80" ry="1.50" fill="rgb(0,0,0)" transform="rotate(-12.35707265122645 462.9 173.6)" filter="url(#bl)"/>
<ellipse cx="470.5" cy="171.6" rx="2.80" ry="1.50" fill="rgb(0,0,0)" transform="rotate(-23.4709931181608 470.5 171.6)" filter="url(#bl)"/>
<ellipse cx="478.1" cy="167.0" rx="2.80" ry="1.50" fill="rgb(0,0,0)" transform="rotate(-31.18497465873828 478.1 167.0)" filter="url(#bl)"/>
<ellipse cx="395.0" cy="210.0" rx="2.80" ry="1.50" fill="rgb(151,151,151)" transform="rotate(27.21611155730744 395.0 210.0)" filter="url(#bl)"/>
<ellipse cx="402.0" cy="213.6" rx="2.80" ry="1.50" fill="rgb(151,151,151)" transform="rotate(21.80140948635179 402.0 213.6)" filter="url(#bl)"/>
<ellipse cx="409.0" cy="215.6" rx="2.80" ry="1.50" fill="rgb(164,164,164)" transform="rotate(13.357600824577059 409.0 215.6)" filter="url(#bl)"/>
<ellipse cx="416.4" cy="217.0" rx="2.80" ry="1.50" fill="rgb(164,164,164)" transform="rotate(10.71312302279111 416.4 217.0)" filter="url(#bl)"/>
<rect x="387.8" y="34.9" width="103.1" height="188.7" fill="none" stroke="#a4a4a4" stroke-width="1.2"/>
<rect x="113.6" y="282.4" width="103.7" height="189.0" fill="#fff" stroke="#a4a4a4" stroke-width="1.2"/>
<linearGradient id="sm7" x1="0" y1="0" x2="0" y2="1"><stop offset="0" stop-color="#000" stop-opacity="0.350"/><stop offset="1" stop-color="#000" stop-opacity="0.030"/></linearGradient>
<rect x="210.3" y="291.0" width="2.6" height="69.0" fill="url(#sm7)" filter="url(#bl2)"/>
<linearGradient id="sm8" x1="0" y1="0" x2="0" y2="1"><stop offset="0" stop-color="#000" stop-opacity="0.060"/><stop offset="1" stop-color="#000" stop-opacity="0.040"/></linearGradient>
<rect x="171.8" y="415.0" width="1.5" height="55.0" fill="url(#sm8)" filter="url(#bl2)"/>
<ellipse cx="118.0" cy="297.0" rx="2.90" ry="1.75" fill="rgb(16,16,16)" transform="rotate(4.2891533288191805 118.0 297.0)" filter="url(#bl)"/>
<ellipse cx="126.0" cy="297.6" rx="2.90" ry="1.75" fill="rgb(32,32,32)" transform="rotate(3.6514240213386704 126.0 297.6)" filter="url(#bl)"/>
<ellipse cx="133.6" cy="298.0" rx="2.90" ry="1.75" fill="rgb(48,48,48)" transform="rotate(3.7062892972123342 133.6 298.0)" filter="url(#bl)"/>
<ellipse cx="141.4" cy="298.6" rx="2.90" ry="1.75" fill="rgb(79,79,79)" transform="rotate(1.4688007143857365 141.4 298.6)" filter="url(#bl)"/>
<ellipse cx="149.2" cy="298.4" rx="2.90" ry="1.75" fill="rgb(16,16,16)" transform="rotate(-4.398705354995695 149.2 298.4)" filter="url(#bl)"/>
<ellipse cx="157.0" cy="297.4" rx="2.90" ry="1.75" fill="rgb(32,32,32)" transform="rotate(-5.091754344833033 157.0 297.4)" filter="url(#bl)"/>
<ellipse cx="165.0" cy="297.0" rx="2.90" ry="1.75" fill="rgb(123,123,123)" transform="rotate(-2.8624052261115853 165.0 297.0)" filter="url(#bl)"/>
<ellipse cx="173.0" cy="296.6" rx="2.90" ry="1.75" fill="rgb(201,201,201)" transform="rotate(-5.710593137499724 173.0 296.6)" filter="url(#bl)"/>
<ellipse cx="181.0" cy="295.4" rx="2.90" ry="1.75" fill="rgb(32,32,32)" transform="rotate(-9.486771013673465 181.0 295.4)" filter="url(#bl)"/>
<ellipse cx="188.6" cy="294.0" rx="2.90" ry="1.75" fill="rgb(64,64,64)" transform="rotate(-10.182065245730406 188.6 294.0)" filter="url(#bl)"/>
<ellipse cx="196.6" cy="292.6" rx="2.90" ry="1.75" fill="rgb(137,137,137)" transform="rotate(-11.067770858018926 196.6 292.6)" filter="url(#bl)"/>
<ellipse cx="204.0" cy="291.0" rx="2.90" ry="1.75" fill="rgb(189,189,189)" transform="rotate(-13.478778219022335 204.0 291.0)" filter="url(#bl)"/>
<ellipse cx="211.6" cy="289.0" rx="2.90" ry="1.75" fill="rgb(0,0,0)" transform="rotate(-14.743562836470748 211.6 289.0)" filter="url(#bl)"/>
<ellipse cx="118.0" cy="342.4" rx="2.90" ry="1.75" fill="rgb(123,123,123)" transform="rotate(11.30993247402037 118.0 342.4)" filter="url(#bl)"/>
<ellipse cx="126.0" cy="344.0" rx="2.90" ry="1.75" fill="rgb(48,48,48)" transform="rotate(9.413414170811006 126.0 344.0)" filter="url(#bl)"/>
<ellipse cx="133.6" cy="345.0" rx="2.90" ry="1.75" fill="rgb(16,16,16)" transform="rotate(5.224057140887669 133.6 345.0)" filter="url(#bl)"/>
<ellipse cx="141.4" cy="345.4" rx="2.90" ry="1.75" fill="rgb(16,16,16)" transform="rotate(-1.4688007143857498 141.4 345.4)" filter="url(#bl)"/>
<ellipse cx="149.2" cy="344.6" rx="2.90" ry="1.75" fill="rgb(223,223,223)" transform="rotate(-8.746162262555126 149.2 344.6)" filter="url(#bl)"/>
<ellipse cx="157.0" cy="343.0" rx="2.90" ry="1.75" fill="rgb(123,123,123)" transform="rotate(-9.372960524029967 157.0 343.0)" filter="url(#bl)"/>
<ellipse cx="165.0" cy="342.0" rx="2.90" ry="1.75" fill="rgb(151,151,151)" transform="rotate(-7.125016348901798 165.0 342.0)" filter="url(#bl)"/>
<ellipse cx="173.0" cy="341.0" rx="2.90" ry="1.75" fill="rgb(189,189,189)" transform="rotate(-8.530765609948054 173.0 341.0)" filter="url(#bl)"/>
<ellipse cx="181.0" cy="339.6" rx="2.90" ry="1.75" fill="rgb(201,201,201)" transform="rotate(-10.910690503845693 181.0 339.6)" filter="url(#bl)"/>
<ellipse cx="188.6" cy="338.0" rx="2.90" ry="1.75" fill="rgb(164,164,164)" transform="rotate(-9.523437682994391 188.6 338.0)" filter="url(#bl)"/>
<ellipse cx="196.6" cy="337.0" rx="2.90" ry="1.75" fill="rgb(164,164,164)" transform="rotate(-11.179588059103656 196.6 337.0)" filter="url(#bl)"/>
<ellipse cx="204.0" cy="335.0" rx="2.90" ry="1.75" fill="rgb(164,164,164)" transform="rotate(-15.124007308310556 204.0 335.0)" filter="url(#bl)"/>
<ellipse cx="119.2" cy="412.4" rx="2.90" ry="1.75" fill="rgb(16,16,16)" transform="rotate(11.30993247402037 119.2 412.4)" filter="url(#bl)"/>
<ellipse cx="127.2" cy="414.0" rx="2.90" ry="1.75" fill="rgb(16,16,16)" transform="rotate(10.874341934349282 127.2 414.0)" filter="url(#bl)"/>
<ellipse cx="134.8" cy="415.4" rx="2.90" ry="1.75" fill="rgb(16,16,16)" transform="rotate(7.438845439805367 134.8 415.4)" filter="url(#bl)"/>
<ellipse cx="142.6" cy="416.0" rx="2.90" ry="1.75" fill="rgb(16,16,16)" transform="rotate(-1.4688007143857527 142.6 416.0)" filter="url(#bl)"/>
<ellipse cx="150.4" cy="415.0" rx="2.90" ry="1.75" fill="rgb(201,201,201)" transform="rotate(-10.885527054658738 150.4 415.0)" filter="url(#bl)"/>
<ellipse cx="158.2" cy="413.0" rx="2.90" ry="1.75" fill="rgb(16,16,16)" transform="rotate(-12.172490422386804 158.2 413.0)" filter="url(#bl)"/>
<ellipse cx="166.2" cy="411.6" rx="2.90" ry="1.75" fill="rgb(16,16,16)" transform="rotate(-8.530765609948054 166.2 411.6)" filter="url(#bl)"/>
<ellipse cx="174.2" cy="410.6" rx="2.90" ry="1.75" fill="rgb(16,16,16)" transform="rotate(-7.125016348901798 174.2 410.6)" filter="url(#bl)"/>
<ellipse cx="182.2" cy="409.6" rx="2.90" ry="1.75" fill="rgb(177,177,177)" transform="rotate(-13.145937826555937 182.2 409.6)" filter="url(#bl)"/>
<ellipse cx="189.8" cy="407.0" rx="2.90" ry="1.75" fill="rgb(32,32,32)" transform="rotate(-18.446256456387573 189.8 407.0)" filter="url(#bl)"/>
<ellipse cx="197.8" cy="404.4" rx="2.90" ry="1.75" fill="rgb(32,32,32)" transform="rotate(-20.06233011188292 197.8 404.4)" filter="url(#bl)"/>
<ellipse cx="205.2" cy="401.4" rx="2.90" ry="1.75" fill="rgb(32,32,32)" transform="rotate(-22.0678995624102 205.2 401.4)" filter="url(#bl)"/>
<ellipse cx="150.4" cy="425.6" rx="2.90" ry="1.75" fill="rgb(223,223,223)" transform="rotate(-18.434948822922134 150.4 425.6)" filter="url(#bl)"/>
<ellipse cx="158.2" cy="423.0" rx="2.90" ry="1.75" fill="rgb(177,177,177)" transform="rotate(-12.907408671265905 158.2 423.0)" filter="url(#bl)"/>
<ellipse cx="166.2" cy="422.0" rx="2.90" ry="1.75" fill="rgb(201,201,201)" transform="rotate(-7.125016348901798 166.2 422.0)" filter="url(#bl)"/>
<ellipse cx="174.2" cy="421.0" rx="2.90" ry="1.75" fill="rgb(212,212,212)" transform="rotate(-8.530765609948054 174.2 421.0)" filter="url(#bl)"/>
<ellipse cx="182.2" cy="419.6" rx="2.90" ry="1.75" fill="rgb(137,137,137)" transform="rotate(-14.496511727728356 182.2 419.6)" filter="url(#bl)"/>
<ellipse cx="189.8" cy="417.0" rx="2.90" ry="1.75" fill="rgb(151,151,151)" transform="rotate(-18.446256456387573 189.8 417.0)" filter="url(#bl)"/>
<ellipse cx="197.8" cy="414.4" rx="2.90" ry="1.75" fill="rgb(177,177,177)" transform="rotate(-21.4165878786713 197.8 414.4)" filter="url(#bl)"/>
<ellipse cx="205.2" cy="411.0" rx="2.90" ry="1.75" fill="rgb(164,164,164)" transform="rotate(-24.676863170336897 205.2 411.0)" filter="url(#bl)"/>
<ellipse cx="172.6" cy="446.6" rx="1.30" ry="1.60" fill="rgb(177,177,177)" transform="rotate(0 172.6 446.6)" filter="url(#bl)"/>
<ellipse cx="121.6" cy="461.6" rx="2.90" ry="1.75" fill="rgb(164,164,164)" transform="rotate(19.440034828175992 121.6 461.6)" filter="url(#bl)"/>
<ellipse cx="128.4" cy="464.0" rx="2.90" ry="1.75" fill="rgb(189,189,189)" transform="rotate(15.776641147642362 128.4 464.0)" filter="url(#bl)"/>
<ellipse cx="135.0" cy="465.4" rx="2.90" ry="1.75" fill="rgb(201,201,201)" transform="rotate(6.054191894114743 135.0 465.4)" filter="url(#bl)"/>
<ellipse cx="142.0" cy="465.4" rx="2.90" ry="1.75" fill="rgb(177,177,177)" transform="rotate(0.0 142.0 465.4)" filter="url(#bl)"/>
<rect x="113.6" y="282.4" width="103.7" height="189.0" fill="none" stroke="#a4a4a4" stroke-width="1.2"/>
<rect x="387.8" y="282.4" width="103.1" height="189.0" fill="#fff" stroke="#a4a4a4" stroke-width="1.2"/>
<linearGradient id="sm9" x1="0" y1="0" x2="0" y2="1"><stop offset="0" stop-color="#000" stop-opacity="0.300"/><stop offset="1" stop-color="#000" stop-opacity="0.200"/></linearGradient>
<rect x="484.3" y="291.0" width="2.6" height="179.0" fill="url(#sm9)" filter="url(#bl2)"/>
<linearGradient id="sm10" x1="0" y1="0" x2="0" y2="1"><stop offset="0" stop-color="#000" stop-opacity="0.070"/><stop offset="1" stop-color="#000" stop-opacity="0.040"/></linearGradient>
<rect x="391.4" y="308.0" width="2.0" height="162.0" fill="url(#sm10)" filter="url(#bl2)"/>
<linearGradient id="sm11" x1="0" y1="0" x2="0" y2="1"><stop offset="0" stop-color="#000" stop-opacity="0.040"/><stop offset="1" stop-color="#000" stop-opacity="0.030"/></linearGradient>
<rect x="399.2" y="308.0" width="1.6" height="162.0" fill="url(#sm11)" filter="url(#bl2)"/>
<linearGradient id="sm12" x1="0" y1="0" x2="0" y2="1"><stop offset="0" stop-color="#000" stop-opacity="0.080"/><stop offset="1" stop-color="#000" stop-opacity="0.040"/></linearGradient>
<rect x="422.6" y="310.0" width="2.0" height="160.0" fill="url(#sm12)" filter="url(#bl2)"/>
<linearGradient id="sm13" x1="0" y1="0" x2="0" y2="1"><stop offset="0" stop-color="#000" stop-opacity="0.050"/><stop offset="1" stop-color="#000" stop-opacity="0.030"/></linearGradient>
<rect x="430.6" y="310.0" width="1.6" height="160.0" fill="url(#sm13)" filter="url(#bl2)"/>
<linearGradient id="sm14" x1="0" y1="0" x2="0" y2="1"><stop offset="0" stop-color="#000" stop-opacity="0.070"/><stop offset="1" stop-color="#000" stop-opacity="0.040"/></linearGradient>
<rect x="453.4" y="306.0" width="2.0" height="164.0" fill="url(#sm14)" filter="url(#bl2)"/>
<linearGradient id="sm15" x1="0" y1="0" x2="0" y2="1"><stop offset="0" stop-color="#000" stop-opacity="0.050"/><stop offset="1" stop-color="#000" stop-opacity="0.030"/></linearGradient>
<rect x="461.6" y="306.0" width="1.6" height="164.0" fill="url(#sm15)" filter="url(#bl2)"/>
<linearGradient id="sm16" x1="0" y1="0" x2="0" y2="1"><stop offset="0" stop-color="#000" stop-opacity="0.050"/><stop offset="1" stop-color="#000" stop-opacity="0.030"/></linearGradient>
<rect x="469.2" y="300.0" width="1.6" height="170.0" fill="url(#sm16)" filter="url(#bl2)"/>
<linearGradient id="sm17" x1="0" y1="0" x2="0" y2="1"><stop offset="0" stop-color="#000" stop-opacity="0.140"/><stop offset="1" stop-color="#000" stop-opacity="0.100"/></linearGradient>
<rect x="477.7" y="355.0" width="1.6" height="115.0" fill="url(#sm17)" filter="url(#bl2)"/>
<linearGradient id="sm18" x1="0" y1="0" x2="0" y2="1"><stop offset="0" stop-color="#000" stop-opacity="0.030"/><stop offset="1" stop-color="#000" stop-opacity="0.030"/></linearGradient>
<rect x="446.3" y="306.0" width="1.4" height="164.0" fill="url(#sm18)" filter="url(#bl2)"/>
<linearGradient id="sm19" x1="0" y1="0" x2="0" y2="1"><stop offset="0" stop-color="#000" stop-opacity="0.030"/><stop offset="1" stop-color="#000" stop-opacity="0.030"/></linearGradient>
<rect x="438.3" y="306.0" width="1.4" height="164.0" fill="url(#sm19)" filter="url(#bl2)"/>
<ellipse cx="392.4" cy="304.4" rx="2.90" ry="1.65" fill="rgb(16,16,16)" transform="rotate(14.036243467926479 392.4 304.4)" filter="url(#bl)"/>
<ellipse cx="400.4" cy="306.4" rx="2.90" ry="1.65" fill="rgb(48,48,48)" transform="rotate(9.340026172805391 400.4 306.4)" filter="url(#bl)"/>
<ellipse cx="408.0" cy="307.0" rx="2.90" ry="1.65" fill="rgb(201,201,201)" transform="rotate(3.7640348649057067 408.0 307.0)" filter="url(#bl)"/>
<ellipse cx="415.6" cy="307.4" rx="2.90" ry="1.65" fill="rgb(233,233,233)" transform="rotate(-3.5012324254470357 415.6 307.4)" filter="url(#bl)"/>
<ellipse cx="423.6" cy="306.0" rx="2.90" ry="1.65" fill="rgb(0,0,0)" transform="rotate(-1.3403297806645749 423.6 306.0)" filter="url(#bl)"/>
<ellipse cx="431.4" cy="307.0" rx="2.90" ry="1.65" fill="rgb(32,32,32)" transform="rotate(2.1639931539420454 431.4 307.0)" filter="url(#bl)"/>
<ellipse cx="439.0" cy="306.6" rx="2.90" ry="1.65" fill="rgb(177,177,177)" transform="rotate(-8.783925648572897 439.0 306.6)" filter="url(#bl)"/>
<ellipse cx="446.8" cy="304.6" rx="2.90" ry="1.65" fill="rgb(223,223,223)" transform="rotate(-11.703431057679207 446.8 304.6)" filter="url(#bl)"/>
<ellipse cx="454.4" cy="303.4" rx="2.90" ry="1.65" fill="rgb(16,16,16)" transform="rotate(-12.895470185318372 454.4 303.4)" filter="url(#bl)"/>
<ellipse cx="462.4" cy="301.0" rx="2.90" ry="1.65" fill="rgb(177,177,177)" transform="rotate(-21.148568784952275 462.4 301.0)" filter="url(#bl)"/>
<ellipse cx="470.0" cy="297.4" rx="2.90" ry="1.65" fill="rgb(233,233,233)" transform="rotate(-25.34617594194677 470.0 297.4)" filter="url(#bl)"/>
<ellipse cx="485.6" cy="288.4" rx="2.50" ry="2.00" fill="rgb(0,0,0)" transform="rotate(0 485.6 288.4)" filter="url(#bl)"/>
<ellipse cx="393.6" cy="375.0" rx="2.50" ry="2.00" fill="rgb(123,123,123)" transform="rotate(18.00416160591353 393.6 375.0)" filter="url(#bl)"/>
<ellipse cx="401.6" cy="377.6" rx="2.50" ry="2.00" fill="rgb(32,32,32)" transform="rotate(12.859647896040217 401.6 377.6)" filter="url(#bl)"/>
<ellipse cx="409.2" cy="378.6" rx="2.50" ry="2.00" fill="rgb(16,16,16)" transform="rotate(6.753574035530804 409.2 378.6)" filter="url(#bl)"/>
<ellipse cx="416.8" cy="379.4" rx="2.50" ry="2.00" fill="rgb(16,16,16)" transform="rotate(-0.5654005232689712 416.8 379.4)" filter="url(#bl)"/>
<ellipse cx="424.8" cy="378.4" rx="2.50" ry="2.00" fill="rgb(212,212,212)" transform="rotate(-3.576334374997351 424.8 378.4)" filter="url(#bl)"/>
<ellipse cx="432.6" cy="378.4" rx="2.50" ry="2.00" fill="rgb(16,16,16)" transform="rotate(-5.262395399595019 432.6 378.4)" filter="url(#bl)"/>
<ellipse cx="440.2" cy="377.0" rx="2.50" ry="2.00" fill="rgb(16,16,16)" transform="rotate(-12.424380523118355 440.2 377.0)" filter="url(#bl)"/>
<ellipse cx="448.0" cy="375.0" rx="2.50" ry="2.00" fill="rgb(32,32,32)" transform="rotate(-16.660220459052514 448.0 375.0)" filter="url(#bl)"/>
<ellipse cx="455.6" cy="372.4" rx="2.50" ry="2.00" fill="rgb(123,123,123)" transform="rotate(-22.222599102186223 455.6 372.4)" filter="url(#bl)"/>
<ellipse cx="463.6" cy="368.6" rx="2.50" ry="2.00" fill="rgb(32,32,32)" transform="rotate(-32.83798520718919 463.6 368.6)" filter="url(#bl)"/>
<ellipse cx="471.2" cy="362.4" rx="2.50" ry="2.00" fill="rgb(32,32,32)" transform="rotate(-41.82016988013572 471.2 362.4)" filter="url(#bl)"/>
<ellipse cx="478.8" cy="355.0" rx="2.50" ry="2.00" fill="rgb(32,32,32)" transform="rotate(-44.236101539069836 478.8 355.0)" filter="url(#bl)"/>
<ellipse cx="393.6" cy="379.0" rx="2.50" ry="2.00" fill="rgb(223,223,223)" transform="rotate(18.00416160591353 393.6 379.0)" filter="url(#bl)"/>
<ellipse cx="401.6" cy="381.6" rx="2.50" ry="2.00" fill="rgb(177,177,177)" transform="rotate(12.859647896040217 401.6 381.6)" filter="url(#bl)"/>
<ellipse cx="409.2" cy="382.6" rx="2.50" ry="2.00" fill="rgb(177,177,177)" transform="rotate(6.753574035530804 409.2 382.6)" filter="url(#bl)"/>
<ellipse cx="416.8" cy="383.4" rx="2.50" ry="2.00" fill="rgb(177,177,177)" transform="rotate(-0.5654005232689712 416.8 383.4)" filter="url(#bl)"/>
<ellipse cx="424.8" cy="382.4" rx="2.50" ry="2.00" fill="rgb(242,242,242)" transform="rotate(-3.576334374997351 424.8 382.4)" filter="url(#bl)"/>
<ellipse cx="432.6" cy="382.4" rx="2.50" ry="2.00" fill="rgb(201,201,201)" transform="rotate(-5.262395399595019 432.6 382.4)" filter="url(#bl)"/>
<ellipse cx="440.2" cy="381.0" rx="2.50" ry="2.00" fill="rgb(201,201,201)" transform="rotate(-12.424380523118355 440.2 381.0)" filter="url(#bl)"/>
<ellipse cx="448.0" cy="379.0" rx="2.50" ry="2.00" fill="rgb(201,201,201)" transform="rotate(-16.660220459052514 448.0 379.0)" filter="url(#bl)"/>
<ellipse cx="455.6" cy="376.4" rx="2.50" ry="2.00" fill="rgb(223,223,223)" transform="rotate(-22.222599102186223 455.6 376.4)" filter="url(#bl)"/>
<ellipse cx="463.6" cy="372.6" rx="2.50" ry="2.00" fill="rgb(201,201,201)" transform="rotate(-32.83798520718919 463.6 372.6)" filter="url(#bl)"/>
<ellipse cx="471.2" cy="366.4" rx="2.50" ry="2.00" fill="rgb(201,201,201)" transform="rotate(-41.82016988013572 471.2 366.4)" filter="url(#bl)"/>
<ellipse cx="478.8" cy="359.0" rx="2.50" ry="2.00" fill="rgb(201,201,201)" transform="rotate(-44.236101539069836 478.8 359.0)" filter="url(#bl)"/>
<ellipse cx="424.8" cy="427.4" rx="2.50" ry="2.00" fill="rgb(0,0,0)" transform="rotate(0.0 424.8 427.4)" filter="url(#bl)"/>
<ellipse cx="432.6" cy="427.4" rx="2.50" ry="2.00" fill="rgb(0,0,0)" transform="rotate(-5.262395399595019 432.6 427.4)" filter="url(#bl)"/>
<ellipse cx="440.2" cy="426.0" rx="2.50" ry="2.00" fill="rgb(0,0,0)" transform="rotate(-14.508288643245331 440.2 426.0)" filter="url(#bl)"/>
<ellipse cx="448.0" cy="423.4" rx="2.50" ry="2.00" fill="rgb(0,0,0)" transform="rotate(-23.25922094552841 448.0 423.4)" filter="url(#bl)"/>
<ellipse cx="455.6" cy="419.4" rx="2.50" ry="2.00" fill="rgb(0,0,0)" transform="rotate(-28.287267000773408 455.6 419.4)" filter="url(#bl)"/>
<ellipse cx="463.6" cy="415.0" rx="2.50" ry="2.00" fill="rgb(0,0,0)" transform="rotate(-38.705747772399036 463.6 415.0)" filter="url(#bl)"/>
<ellipse cx="471.2" cy="407.0" rx="2.50" ry="2.00" fill="rgb(0,0,0)" transform="rotate(-46.46880071438574 471.2 407.0)" filter="url(#bl)"/>
<ellipse cx="478.8" cy="399.0" rx="2.50" ry="2.00" fill="rgb(0,0,0)" transform="rotate(-46.46880071438574 478.8 399.0)" filter="url(#bl)"/>
<ellipse cx="395.4" cy="457.4" rx="2.50" ry="2.00" fill="rgb(0,0,0)" transform="rotate(24.56717132060162 395.4 457.4)" filter="url(#bl)"/>
<ellipse cx="402.4" cy="460.6" rx="2.50" ry="2.00" fill="rgb(0,0,0)" transform="rotate(16.594891856911122 402.4 460.6)" filter="url(#bl)"/>
<ellipse cx="409.6" cy="461.6" rx="2.50" ry="2.00" fill="rgb(0,0,0)" transform="rotate(5.431665733877827 409.6 461.6)" filter="url(#bl)"/>
<ellipse cx="417.4" cy="462.0" rx="2.50" ry="2.00" fill="rgb(0,0,0)" transform="rotate(2.9356734464210232 417.4 462.0)" filter="url(#bl)"/>
<rect x="387.8" y="282.4" width="103.1" height="189.0" fill="none" stroke="#a4a4a4" stroke-width="1.2"/>
<polygon points="115.6,30.3 145.0,30.3 145.0,18.9" fill="none" stroke="#111" stroke-width="1.2" stroke-linejoin="miter"/>
<line x1="115.6" y1="30.3" x2="145.0" y2="30.3" stroke="#111" stroke-width="1.6"/>
<polygon points="146.4,30.3 175.8,30.3 175.8,18.9" fill="none" stroke="#111" stroke-width="1.2" stroke-linejoin="miter"/>
<line x1="146.4" y1="30.3" x2="175.8" y2="30.3" stroke="#111" stroke-width="1.6"/>
<polygon points="177.6,30.3 207.0,30.3 207.0,18.9" fill="none" stroke="#111" stroke-width="1.2" stroke-linejoin="miter"/>
<line x1="177.6" y1="30.3" x2="207.0" y2="30.3" stroke="#111" stroke-width="1.6"/>
<text x="211.2" y="27.8" font-size="9.5" font-family='"Liberation Serif", serif' font-weight="normal" font-style="normal" fill="#333" text-anchor="start" textLength="2.8" lengthAdjust="spacingAndGlyphs" stroke="#333" stroke-width="0.3">0</text>
<text x="120.0" y="12.7" font-family='"Liberation Sans", sans-serif' fill="#222" textLength="18.0" lengthAdjust="spacingAndGlyphs"><tspan font-weight="bold" font-size="6.4" stroke="#222" stroke-width="0.3">HH</tspan><tspan font-size="7.8" fill="#666" stroke="#666" stroke-width="0.35">11</tspan><tspan font-size="8.6" stroke="#222" stroke-width="0.25">3</tspan></text>
<text x="147.6" y="12.7" font-family='"Liberation Sans", sans-serif' fill="#222" textLength="29.4" lengthAdjust="spacingAndGlyphs"><tspan font-weight="bold" font-size="6.4" stroke="#222" stroke-width="0.3">HH</tspan><tspan font-size="7.8" fill="#666" stroke="#666" stroke-width="0.35">11</tspan><tspan font-size="8.6" stroke="#222" stroke-width="0.25">3</tspan><tspan font-weight="bold" font-size="6.8" stroke="#222" stroke-width="0.25">DIS</tspan></text>
<text x="178.0" y="12.7" font-family='"Liberation Sans", sans-serif' fill="#222" textLength="34.0" lengthAdjust="spacingAndGlyphs"><tspan font-weight="bold" font-size="6.4" stroke="#222" stroke-width="0.3">HH</tspan><tspan font-size="7.8" fill="#666" stroke="#666" stroke-width="0.35">11</tspan><tspan font-size="8.6" stroke="#222" stroke-width="0.25">3</tspan><tspan font-size="6.4" fill="#444" stroke="#444" stroke-width="0.2">α</tspan><tspan font-weight="bold" font-size="6.8" stroke="#222" stroke-width="0.25">DIS</tspan></text>
<polygon points="389.6,30.3 419.0,30.3 419.0,18.9" fill="none" stroke="#111" stroke-width="1.2" stroke-linejoin="miter"/>
<line x1="389.6" y1="30.3" x2="419.0" y2="30.3" stroke="#111" stroke-width="1.6"/>
<polygon points="420.4,30.3 449.8,30.3 449.8,18.9" fill="none" stroke="#111" stroke-width="1.2" stroke-linejoin="miter"/>
<line x1="420.4" y1="30.3" x2="449.8" y2="30.3" stroke="#111" stroke-width="1.6"/>
<polygon points="451.6,30.3 481.0,30.3 481.0,18.9" fill="none" stroke="#111" stroke-width="1.2" stroke-linejoin="miter"/>
<line x1="451.6" y1="30.3" x2="481.0" y2="30.3" stroke="#111" stroke-width="1.6"/>
<text x="485.2" y="27.8" font-size="9.5" font-family='"Liberation Serif", serif' font-weight="normal" font-style="normal" fill="#333" text-anchor="start" textLength="2.8" lengthAdjust="spacingAndGlyphs" stroke="#333" stroke-width="0.3">0</text>
<text x="394.0" y="12.7" font-family='"Liberation Sans", sans-serif' fill="#222" textLength="21.0" lengthAdjust="spacingAndGlyphs"><tspan font-weight="bold" font-size="6.4" stroke="#222" stroke-width="0.3">HH</tspan><tspan font-size="7.8" fill="#666" stroke="#666" stroke-width="0.35">1</tspan><tspan font-size="8.6" stroke="#222" stroke-width="0.25">59</tspan></text>
<text x="421.0" y="12.7" font-family='"Liberation Sans", sans-serif' fill="#222" textLength="32.0" lengthAdjust="spacingAndGlyphs"><tspan font-weight="bold" font-size="6.4" stroke="#222" stroke-width="0.3">HH</tspan><tspan font-size="7.8" fill="#666" stroke="#666" stroke-width="0.35">1</tspan><tspan font-size="8.6" stroke="#222" stroke-width="0.25">59</tspan><tspan font-weight="bold" font-size="6.8" stroke="#222" stroke-width="0.25">DIS</tspan></text>
<text x="455.0" y="12.7" font-family='"Liberation Sans", sans-serif' fill="#222" textLength="36.0" lengthAdjust="spacingAndGlyphs"><tspan font-weight="bold" font-size="6.4" stroke="#222" stroke-width="0.3">HH</tspan><tspan font-size="7.8" fill="#666" stroke="#666" stroke-width="0.35">1</tspan><tspan font-size="8.6" stroke="#222" stroke-width="0.25">59</tspan><tspan font-size="6.4" fill="#444" stroke="#444" stroke-width="0.2">α</tspan><tspan font-weight="bold" font-size="6.8" stroke="#222" stroke-width="0.25">DIS</tspan></text>
<polygon points="115.6,278.1 145.0,278.1 145.0,266.7" fill="none" stroke="#111" stroke-width="1.2" stroke-linejoin="miter"/>
<line x1="115.6" y1="278.1" x2="145.0" y2="278.1" stroke="#111" stroke-width="1.6"/>
<polygon points="146.4,278.1 175.8,278.1 175.8,266.7" fill="none" stroke="#111" stroke-width="1.2" stroke-linejoin="miter"/>
<line x1="146.4" y1="278.1" x2="175.8" y2="278.1" stroke="#111" stroke-width="1.6"/>
<polygon points="177.6,278.1 207.0,278.1 207.0,266.7" fill="none" stroke="#111" stroke-width="1.2" stroke-linejoin="miter"/>
<line x1="177.6" y1="278.1" x2="207.0" y2="278.1" stroke="#111" stroke-width="1.6"/>
<text x="211.2" y="275.6" font-size="9.5" font-family='"Liberation Serif", serif' font-weight="normal" font-style="normal" fill="#333" text-anchor="start" textLength="2.8" lengthAdjust="spacingAndGlyphs" stroke="#333" stroke-width="0.3">0</text>
<text x="120.0" y="260.5" font-family='"Liberation Sans", sans-serif' fill="#222" textLength="18.0" lengthAdjust="spacingAndGlyphs"><tspan font-weight="bold" font-size="6.4" stroke="#222" stroke-width="0.3">HP</tspan><tspan font-size="7.8" fill="#666" stroke="#666" stroke-width="0.35">11</tspan><tspan font-size="8.6" stroke="#222" stroke-width="0.25">3</tspan></text>
<text x="147.0" y="260.5" font-family='"Liberation Sans", sans-serif' fill="#222" textLength="29.0" lengthAdjust="spacingAndGlyphs"><tspan font-weight="bold" font-size="6.4" stroke="#222" stroke-width="0.3">HP</tspan><tspan font-size="7.8" fill="#666" stroke="#666" stroke-width="0.35">11</tspan><tspan font-size="8.6" stroke="#222" stroke-width="0.25">3</tspan><tspan font-weight="bold" font-size="6.8" stroke="#222" stroke-width="0.25">DIS</tspan></text>
<text x="178.0" y="260.5" font-family='"Liberation Sans", sans-serif' fill="#222" textLength="33.0" lengthAdjust="spacingAndGlyphs"><tspan font-weight="bold" font-size="6.4" stroke="#222" stroke-width="0.3">HP</tspan><tspan font-size="7.8" fill="#666" stroke="#666" stroke-width="0.35">11</tspan><tspan font-size="8.6" stroke="#222" stroke-width="0.25">3</tspan><tspan font-size="6.4" fill="#444" stroke="#444" stroke-width="0.2">α</tspan><tspan font-weight="bold" font-size="6.8" stroke="#222" stroke-width="0.25">DIS</tspan></text>
<polygon points="389.6,278.1 419.0,278.1 419.0,266.7" fill="none" stroke="#111" stroke-width="1.2" stroke-linejoin="miter"/>
<line x1="389.6" y1="278.1" x2="419.0" y2="278.1" stroke="#111" stroke-width="1.6"/>
<polygon points="420.4,278.1 449.8,278.1 449.8,266.7" fill="none" stroke="#111" stroke-width="1.2" stroke-linejoin="miter"/>
<line x1="420.4" y1="278.1" x2="449.8" y2="278.1" stroke="#111" stroke-width="1.6"/>
<polygon points="451.6,278.1 481.0,278.1 481.0,266.7" fill="none" stroke="#111" stroke-width="1.2" stroke-linejoin="miter"/>
<line x1="451.6" y1="278.1" x2="481.0" y2="278.1" stroke="#111" stroke-width="1.6"/>
<text x="485.2" y="275.6" font-size="9.5" font-family='"Liberation Serif", serif' font-weight="normal" font-style="normal" fill="#333" text-anchor="start" textLength="2.8" lengthAdjust="spacingAndGlyphs" stroke="#333" stroke-width="0.3">0</text>
<text x="394.0" y="260.5" font-family='"Liberation Sans", sans-serif' fill="#222" textLength="20.4" lengthAdjust="spacingAndGlyphs"><tspan font-weight="bold" font-size="6.4" stroke="#222" stroke-width="0.3">HP</tspan><tspan font-size="7.8" fill="#666" stroke="#666" stroke-width="0.35">1</tspan><tspan font-size="8.6" stroke="#222" stroke-width="0.25">59</tspan></text>
<text x="420.4" y="260.5" font-family='"Liberation Sans", sans-serif' fill="#222" textLength="31.6" lengthAdjust="spacingAndGlyphs"><tspan font-weight="bold" font-size="6.4" stroke="#222" stroke-width="0.3">HP</tspan><tspan font-size="7.8" fill="#666" stroke="#666" stroke-width="0.35">1</tspan><tspan font-size="8.6" stroke="#222" stroke-width="0.25">59</tspan><tspan font-weight="bold" font-size="6.8" stroke="#222" stroke-width="0.25">DIS</tspan></text>
<text x="454.4" y="260.5" font-family='"Liberation Sans", sans-serif' fill="#222" textLength="35.6" lengthAdjust="spacingAndGlyphs"><tspan font-weight="bold" font-size="6.4" stroke="#222" stroke-width="0.3">HP</tspan><tspan font-size="7.8" fill="#666" stroke="#666" stroke-width="0.35">1</tspan><tspan font-size="8.6" stroke="#222" stroke-width="0.25">59</tspan><tspan font-size="6.4" fill="#444" stroke="#444" stroke-width="0.2">α</tspan><tspan font-weight="bold" font-size="6.8" stroke="#222" stroke-width="0.25">DIS</tspan></text>
<text x="250.1" y="14.5" font-size="12" font-family='"Liberation Serif", serif' font-weight="normal" font-style="normal" fill="#1a1a1a" text-anchor="middle" textLength="45.8" lengthAdjust="spacingAndGlyphs" stroke="#1a1a1a" stroke-width="0.35">Cleaving RNA</text>
<text x="250.1" y="29.0" font-size="12" font-family='"Liberation Serif", serif' font-weight="normal" font-style="normal" fill="#1a1a1a" text-anchor="middle" textLength="16.0" lengthAdjust="spacingAndGlyphs" stroke="#1a1a1a" stroke-width="0.35">Time</text>
<text x="250.1" y="47.0" font-size="12" font-family='"Liberation Serif", serif' font-weight="normal" font-style="normal" fill="#1a1a1a" text-anchor="middle" textLength="32.6" lengthAdjust="spacingAndGlyphs" stroke="#1a1a1a" stroke-width="0.35">Uncleaved</text>
<text x="250.1" y="61.9" font-size="12" font-family='"Liberation Serif", serif' font-weight="normal" font-style="normal" fill="#1a1a1a" text-anchor="middle" textLength="25.8" lengthAdjust="spacingAndGlyphs" stroke="#1a1a1a" stroke-width="0.35">≈ 308 nt</text>
<text x="250.1" y="92.7" font-size="12" font-family='"Liberation Serif", serif' font-weight="normal" font-style="normal" fill="#1a1a1a" text-anchor="middle" textLength="36.7" lengthAdjust="spacingAndGlyphs" stroke="#1a1a1a" stroke-width="0.35">3’-fragment</text>
<text x="250.1" y="108.0" font-size="12" font-family='"Liberation Serif", serif' font-weight="normal" font-style="normal" fill="#1a1a1a" text-anchor="middle" textLength="25.5" lengthAdjust="spacingAndGlyphs" stroke="#1a1a1a" stroke-width="0.35">≈ 195 nt</text>
<text x="250.1" y="129.5" font-size="12" font-family='"Liberation Serif", serif' font-weight="normal" font-style="normal" fill="#1a1a1a" text-anchor="middle" textLength="36.7" lengthAdjust="spacingAndGlyphs" stroke="#1a1a1a" stroke-width="0.35">5’-fragment</text>
<text x="250.1" y="144.5" font-size="12" font-family='"Liberation Serif", serif' font-weight="normal" font-style="normal" fill="#1a1a1a" text-anchor="middle" textLength="25.5" lengthAdjust="spacingAndGlyphs" stroke="#1a1a1a" stroke-width="0.35">≈ 113 nt</text>
<text x="250.1" y="163.7" font-size="12" font-family='"Liberation Serif", serif' font-weight="normal" font-style="normal" fill="#1a1a1a" text-anchor="middle" textLength="26.2" lengthAdjust="spacingAndGlyphs" stroke="#1a1a1a" stroke-width="0.35">Chimera</text>
<text x="250.1" y="178.3" font-size="12" font-family='"Liberation Serif", serif' font-weight="normal" font-style="normal" fill="#1a1a1a" text-anchor="middle" textLength="21.8" lengthAdjust="spacingAndGlyphs" stroke="#1a1a1a" stroke-width="0.35">≈ 74 nt</text>
<text x="250.1" y="196.6" font-size="12" font-family='"Liberation Serif", serif' font-weight="normal" font-style="normal" fill="#1a1a1a" text-anchor="middle" textLength="20.4" lengthAdjust="spacingAndGlyphs" stroke="#1a1a1a" stroke-width="0.35">Single</text>
<text x="250.1" y="211.4" font-size="12" font-family='"Liberation Serif", serif' font-weight="normal" font-style="normal" fill="#1a1a1a" text-anchor="middle" textLength="29.6" lengthAdjust="spacingAndGlyphs" stroke="#1a1a1a" stroke-width="0.35">ribozyme</text>
<text x="250.1" y="226.7" font-size="12" font-family='"Liberation Serif", serif' font-weight="normal" font-style="normal" fill="#1a1a1a" text-anchor="middle" textLength="21.8" lengthAdjust="spacingAndGlyphs" stroke="#1a1a1a" stroke-width="0.35">≈ 51 nt</text>
<text x="524.1" y="14.6" font-size="12" font-family='"Liberation Serif", serif' font-weight="normal" font-style="normal" fill="#1a1a1a" text-anchor="middle" textLength="46.3" lengthAdjust="spacingAndGlyphs" stroke="#1a1a1a" stroke-width="0.35">Cleaving RNA</text>
<text x="524.1" y="29.0" font-size="12" font-family='"Liberation Serif", serif' font-weight="normal" font-style="normal" fill="#1a1a1a" text-anchor="middle" textLength="15.3" lengthAdjust="spacingAndGlyphs" stroke="#1a1a1a" stroke-width="0.35">Time</text>
<text x="524.1" y="47.0" font-size="12" font-family='"Liberation Serif", serif' font-weight="normal" font-style="normal" fill="#1a1a1a" text-anchor="middle" textLength="32.8" lengthAdjust="spacingAndGlyphs" stroke="#1a1a1a" stroke-width="0.35">Uncleaved</text>
<text x="524.1" y="61.9" font-size="12" font-family='"Liberation Serif", serif' font-weight="normal" font-style="normal" fill="#1a1a1a" text-anchor="middle" textLength="25.5" lengthAdjust="spacingAndGlyphs" stroke="#1a1a1a" stroke-width="0.35">≈ 308 nt</text>
<text x="524.1" y="92.5" font-size="12" font-family='"Liberation Serif", serif' font-weight="normal" font-style="normal" fill="#1a1a1a" text-anchor="middle" textLength="37.2" lengthAdjust="spacingAndGlyphs" stroke="#1a1a1a" stroke-width="0.35">5’-fragment</text>
<text x="524.1" y="107.8" font-size="12" font-family='"Liberation Serif", serif' font-weight="normal" font-style="normal" fill="#1a1a1a" text-anchor="middle" textLength="25.5" lengthAdjust="spacingAndGlyphs" stroke="#1a1a1a" stroke-width="0.35">≈ 159 nt</text>
<text x="524.1" y="128.9" font-size="12" font-family='"Liberation Serif", serif' font-weight="normal" font-style="normal" fill="#1a1a1a" text-anchor="middle" textLength="37.2" lengthAdjust="spacingAndGlyphs" stroke="#1a1a1a" stroke-width="0.35">3’-fragment</text>
<text x="524.1" y="144.9" font-size="12" font-family='"Liberation Serif", serif' font-weight="normal" font-style="normal" fill="#1a1a1a" text-anchor="middle" textLength="25.5" lengthAdjust="spacingAndGlyphs" stroke="#1a1a1a" stroke-width="0.35">≈ 149 nt</text>
<text x="524.1" y="163.4" font-size="12" font-family='"Liberation Serif", serif' font-weight="normal" font-style="normal" fill="#1a1a1a" text-anchor="middle" textLength="26.3" lengthAdjust="spacingAndGlyphs" stroke="#1a1a1a" stroke-width="0.35">Chimera</text>
<text x="524.1" y="178.4" font-size="12" font-family='"Liberation Serif", serif' font-weight="normal" font-style="normal" fill="#1a1a1a" text-anchor="middle" textLength="21.9" lengthAdjust="spacingAndGlyphs" stroke="#1a1a1a" stroke-width="0.35">≈ 74 nt</text>
<text x="524.1" y="196.4" font-size="12" font-family='"Liberation Serif", serif' font-weight="normal" font-style="normal" fill="#1a1a1a" text-anchor="middle" textLength="19.6" lengthAdjust="spacingAndGlyphs" stroke="#1a1a1a" stroke-width="0.35">Single</text>
<text x="524.1" y="211.5" font-size="12" font-family='"Liberation Serif", serif' font-weight="normal" font-style="normal" fill="#1a1a1a" text-anchor="middle" textLength="29.1" lengthAdjust="spacingAndGlyphs" stroke="#1a1a1a" stroke-width="0.35">ribozyme</text>
<text x="524.1" y="226.5" font-size="12" font-family='"Liberation Serif", serif' font-weight="normal" font-style="normal" fill="#1a1a1a" text-anchor="middle" textLength="22.6" lengthAdjust="spacingAndGlyphs" stroke="#1a1a1a" stroke-width="0.35">≈ 51 nt</text>
<text x="250.1" y="262.4" font-size="12" font-family='"Liberation Serif", serif' font-weight="normal" font-style="normal" fill="#1a1a1a" text-anchor="middle" textLength="45.8" lengthAdjust="spacingAndGlyphs" stroke="#1a1a1a" stroke-width="0.35">Cleaving RNA</text>
<text x="250.1" y="277.7" font-size="12" font-family='"Liberation Serif", serif' font-weight="normal" font-style="normal" fill="#1a1a1a" text-anchor="middle" textLength="16.0" lengthAdjust="spacingAndGlyphs" stroke="#1a1a1a" stroke-width="0.35">Time</text>
<text x="250.1" y="295.2" font-size="12" font-family='"Liberation Serif", serif' font-weight="normal" font-style="normal" fill="#1a1a1a" text-anchor="middle" textLength="32.6" lengthAdjust="spacingAndGlyphs" stroke="#1a1a1a" stroke-width="0.35">Uncleaved</text>
<text x="250.1" y="310.5" font-size="12" font-family='"Liberation Serif", serif' font-weight="normal" font-style="normal" fill="#1a1a1a" text-anchor="middle" textLength="25.8" lengthAdjust="spacingAndGlyphs" stroke="#1a1a1a" stroke-width="0.35">≈ 308 nt</text>
<text x="250.1" y="341.2" font-size="12" font-family='"Liberation Serif", serif' font-weight="normal" font-style="normal" fill="#1a1a1a" text-anchor="middle" textLength="36.7" lengthAdjust="spacingAndGlyphs" stroke="#1a1a1a" stroke-width="0.35">3’-fragment</text>
<text x="250.1" y="356.1" font-size="12" font-family='"Liberation Serif", serif' font-weight="normal" font-style="normal" fill="#1a1a1a" text-anchor="middle" textLength="25.5" lengthAdjust="spacingAndGlyphs" stroke="#1a1a1a" stroke-width="0.35">≈ 195 nt</text>
<text x="250.1" y="377.0" font-size="12" font-family='"Liberation Serif", serif' font-weight="normal" font-style="normal" fill="#1a1a1a" text-anchor="middle" textLength="36.7" lengthAdjust="spacingAndGlyphs" stroke="#1a1a1a" stroke-width="0.35">5’-fragment</text>
<text x="250.1" y="392.5" font-size="12" font-family='"Liberation Serif", serif' font-weight="normal" font-style="normal" fill="#1a1a1a" text-anchor="middle" textLength="25.5" lengthAdjust="spacingAndGlyphs" stroke="#1a1a1a" stroke-width="0.35">≈ 113 nt</text>
<text x="250.1" y="411.7" font-size="12" font-family='"Liberation Serif", serif' font-weight="normal" font-style="normal" fill="#1a1a1a" text-anchor="middle" textLength="26.2" lengthAdjust="spacingAndGlyphs" stroke="#1a1a1a" stroke-width="0.35">Chimera</text>
<text x="250.1" y="426.7" font-size="12" font-family='"Liberation Serif", serif' font-weight="normal" font-style="normal" fill="#1a1a1a" text-anchor="middle" textLength="25.5" lengthAdjust="spacingAndGlyphs" stroke="#1a1a1a" stroke-width="0.35">≈ 100 nt</text>
<text x="250.1" y="444.9" font-size="12" font-family='"Liberation Serif", serif' font-weight="normal" font-style="normal" fill="#1a1a1a" text-anchor="middle" textLength="20.4" lengthAdjust="spacingAndGlyphs" stroke="#1a1a1a" stroke-width="0.35">Single</text>
<text x="250.1" y="460.2" font-size="12" font-family='"Liberation Serif", serif' font-weight="normal" font-style="normal" fill="#1a1a1a" text-anchor="middle" textLength="29.6" lengthAdjust="spacingAndGlyphs" stroke="#1a1a1a" stroke-width="0.35">ribozyme</text>
<text x="250.1" y="474.8" font-size="12" font-family='"Liberation Serif", serif' font-weight="normal" font-style="normal" fill="#1a1a1a" text-anchor="middle" textLength="21.8" lengthAdjust="spacingAndGlyphs" stroke="#1a1a1a" stroke-width="0.35">≈ 77 nt</text>
<text x="523.6" y="262.4" font-size="12" font-family='"Liberation Serif", serif' font-weight="normal" font-style="normal" fill="#1a1a1a" text-anchor="middle" textLength="46.0" lengthAdjust="spacingAndGlyphs" stroke="#1a1a1a" stroke-width="0.35">Cleaving RNA</text>
<text x="523.6" y="277.7" font-size="12" font-family='"Liberation Serif", serif' font-weight="normal" font-style="normal" fill="#1a1a1a" text-anchor="middle" textLength="15.3" lengthAdjust="spacingAndGlyphs" stroke="#1a1a1a" stroke-width="0.35">Time</text>
<text x="523.6" y="295.2" font-size="12" font-family='"Liberation Serif", serif' font-weight="normal" font-style="normal" fill="#1a1a1a" text-anchor="middle" textLength="33.1" lengthAdjust="spacingAndGlyphs" stroke="#1a1a1a" stroke-width="0.35">Uncleaved</text>
<text x="523.6" y="310.5" font-size="12" font-family='"Liberation Serif", serif' font-weight="normal" font-style="normal" fill="#1a1a1a" text-anchor="middle" textLength="25.5" lengthAdjust="spacingAndGlyphs" stroke="#1a1a1a" stroke-width="0.35">≈ 308 nt</text>
<text x="523.6" y="341.0" font-size="12" font-family='"Liberation Serif", serif' font-weight="normal" font-style="normal" fill="#1a1a1a" text-anchor="middle" textLength="37.3" lengthAdjust="spacingAndGlyphs" stroke="#1a1a1a" stroke-width="0.35">5’-fragment</text>
<text x="523.6" y="356.3" font-size="12" font-family='"Liberation Serif", serif' font-weight="normal" font-style="normal" fill="#1a1a1a" text-anchor="middle" textLength="24.7" lengthAdjust="spacingAndGlyphs" stroke="#1a1a1a" stroke-width="0.35">≈ 159 nt</text>
<text x="523.6" y="377.2" font-size="12" font-family='"Liberation Serif", serif' font-weight="normal" font-style="normal" fill="#1a1a1a" text-anchor="middle" textLength="37.3" lengthAdjust="spacingAndGlyphs" stroke="#1a1a1a" stroke-width="0.35">3’-fragment</text>
<text x="523.6" y="392.6" font-size="12" font-family='"Liberation Serif", serif' font-weight="normal" font-style="normal" fill="#1a1a1a" text-anchor="middle" textLength="24.0" lengthAdjust="spacingAndGlyphs" stroke="#1a1a1a" stroke-width="0.35">≈149nt</text>
<text x="523.6" y="411.2" font-size="12" font-family='"Liberation Serif", serif' font-weight="normal" font-style="normal" fill="#1a1a1a" text-anchor="middle" textLength="26.6" lengthAdjust="spacingAndGlyphs" stroke="#1a1a1a" stroke-width="0.35">Chimera</text>
<text x="523.6" y="426.5" font-size="12" font-family='"Liberation Serif", serif' font-weight="normal" font-style="normal" fill="#1a1a1a" text-anchor="middle" textLength="24.7" lengthAdjust="spacingAndGlyphs" stroke="#1a1a1a" stroke-width="0.35">≈ 100 nt</text>
<text x="523.6" y="443.3" font-size="12" font-family='"Liberation Serif", serif' font-weight="normal" font-style="normal" fill="#1a1a1a" text-anchor="middle" textLength="20.2" lengthAdjust="spacingAndGlyphs" stroke="#1a1a1a" stroke-width="0.35">Single</text>
<text x="523.6" y="460.2" font-size="12" font-family='"Liberation Serif", serif' font-weight="normal" font-style="normal" fill="#1a1a1a" text-anchor="middle" textLength="29.4" lengthAdjust="spacingAndGlyphs" stroke="#1a1a1a" stroke-width="0.35">ribozyme</text>
<text x="523.6" y="474.8" font-size="12" font-family='"Liberation Serif", serif' font-weight="normal" font-style="normal" fill="#1a1a1a" text-anchor="middle" textLength="23.3" lengthAdjust="spacingAndGlyphs" stroke="#1a1a1a" stroke-width="0.35">≈ 77 nt</text>
<line x1="231.1" y1="51.0" x2="220.4" y2="41.2" stroke="#111" stroke-width="1.5"/>
<polygon points="217.2,38.2 222.1,39.4 218.8,42.9" fill="#111"/>
<line x1="231.1" y1="97.2" x2="220.1" y2="84.9" stroke="#111" stroke-width="1.5"/>
<polygon points="217.2,81.6 221.9,83.3 218.3,86.5" fill="#111"/>
<line x1="231.1" y1="134.4" x2="221.6" y2="134.4" stroke="#111" stroke-width="1.5"/>
<polygon points="217.2,134.4 221.6,132.0 221.6,136.8" fill="#111"/>
<line x1="231.1" y1="164.6" x2="221.0" y2="170.4" stroke="#111" stroke-width="1.5"/>
<polygon points="217.2,172.6 219.8,168.3 222.2,172.5" fill="#111"/>
<line x1="231.1" y1="203.5" x2="220.9" y2="209.9" stroke="#111" stroke-width="1.5"/>
<polygon points="217.2,212.3 219.6,207.9 222.2,212.0" fill="#111"/>
<line x1="504.8" y1="54.7" x2="494.0" y2="41.6" stroke="#111" stroke-width="1.5"/>
<polygon points="491.2,38.2 495.9,40.1 492.1,43.1" fill="#111"/>
<line x1="504.8" y1="97.4" x2="495.6" y2="97.4" stroke="#111" stroke-width="1.5"/>
<polygon points="491.2,97.4 495.6,95.0 495.6,99.8" fill="#111"/>
<line x1="504.8" y1="134.2" x2="493.2" y2="111.1" stroke="#111" stroke-width="1.5"/>
<polygon points="491.2,107.2 495.3,110.0 491.0,112.2" fill="#111"/>
<line x1="504.8" y1="164.7" x2="495.6" y2="164.7" stroke="#111" stroke-width="1.5"/>
<polygon points="491.2,164.7 495.6,162.3 495.6,167.1" fill="#111"/>
<line x1="504.8" y1="212.4" x2="495.6" y2="212.4" stroke="#111" stroke-width="1.5"/>
<polygon points="491.2,212.4 495.6,210.0 495.6,214.8" fill="#111"/>
<line x1="231.1" y1="299.0" x2="220.4" y2="289.3" stroke="#111" stroke-width="1.5"/>
<polygon points="217.2,286.3 222.1,287.5 218.8,291.0" fill="#111"/>
<line x1="231.1" y1="345.0" x2="220.9" y2="338.6" stroke="#111" stroke-width="1.5"/>
<polygon points="217.2,336.3 222.2,336.6 219.7,340.7" fill="#111"/>
<line x1="231.1" y1="382.4" x2="220.1" y2="395.1" stroke="#111" stroke-width="1.5"/>
<polygon points="217.2,398.4 218.3,393.5 221.9,396.7" fill="#111"/>
<line x1="231.1" y1="421.0" x2="220.7" y2="413.4" stroke="#111" stroke-width="1.5"/>
<polygon points="217.2,410.8 222.2,411.5 219.3,415.3" fill="#111"/>
<line x1="223.9" y1="460.8" x2="221.6" y2="460.8" stroke="#111" stroke-width="1.5"/>
<polygon points="217.2,460.8 221.6,458.4 221.6,463.2" fill="#111"/>
<line x1="504.8" y1="301.9" x2="494.1" y2="289.6" stroke="#111" stroke-width="1.5"/>
<polygon points="491.2,286.3 495.9,288.0 492.3,291.2" fill="#111"/>
<line x1="504.8" y1="345.2" x2="495.6" y2="345.2" stroke="#111" stroke-width="1.5"/>
<polygon points="491.2,345.2 495.6,342.8 495.6,347.6" fill="#111"/>
<line x1="504.8" y1="381.3" x2="493.4" y2="361.0" stroke="#111" stroke-width="1.5"/>
<polygon points="491.2,357.2 495.5,359.9 491.3,362.2" fill="#111"/>
<line x1="504.8" y1="409.9" x2="494.0" y2="396.5" stroke="#111" stroke-width="1.5"/>
<polygon points="491.2,393.1 495.8,395.0 492.1,398.0" fill="#111"/>
<line x1="504.8" y1="453.0" x2="495.0" y2="458.8" stroke="#111" stroke-width="1.5"/>
<polygon points="491.2,461.0 493.8,456.7 496.2,460.8" fill="#111"/>
</g></svg>
</body></html>
